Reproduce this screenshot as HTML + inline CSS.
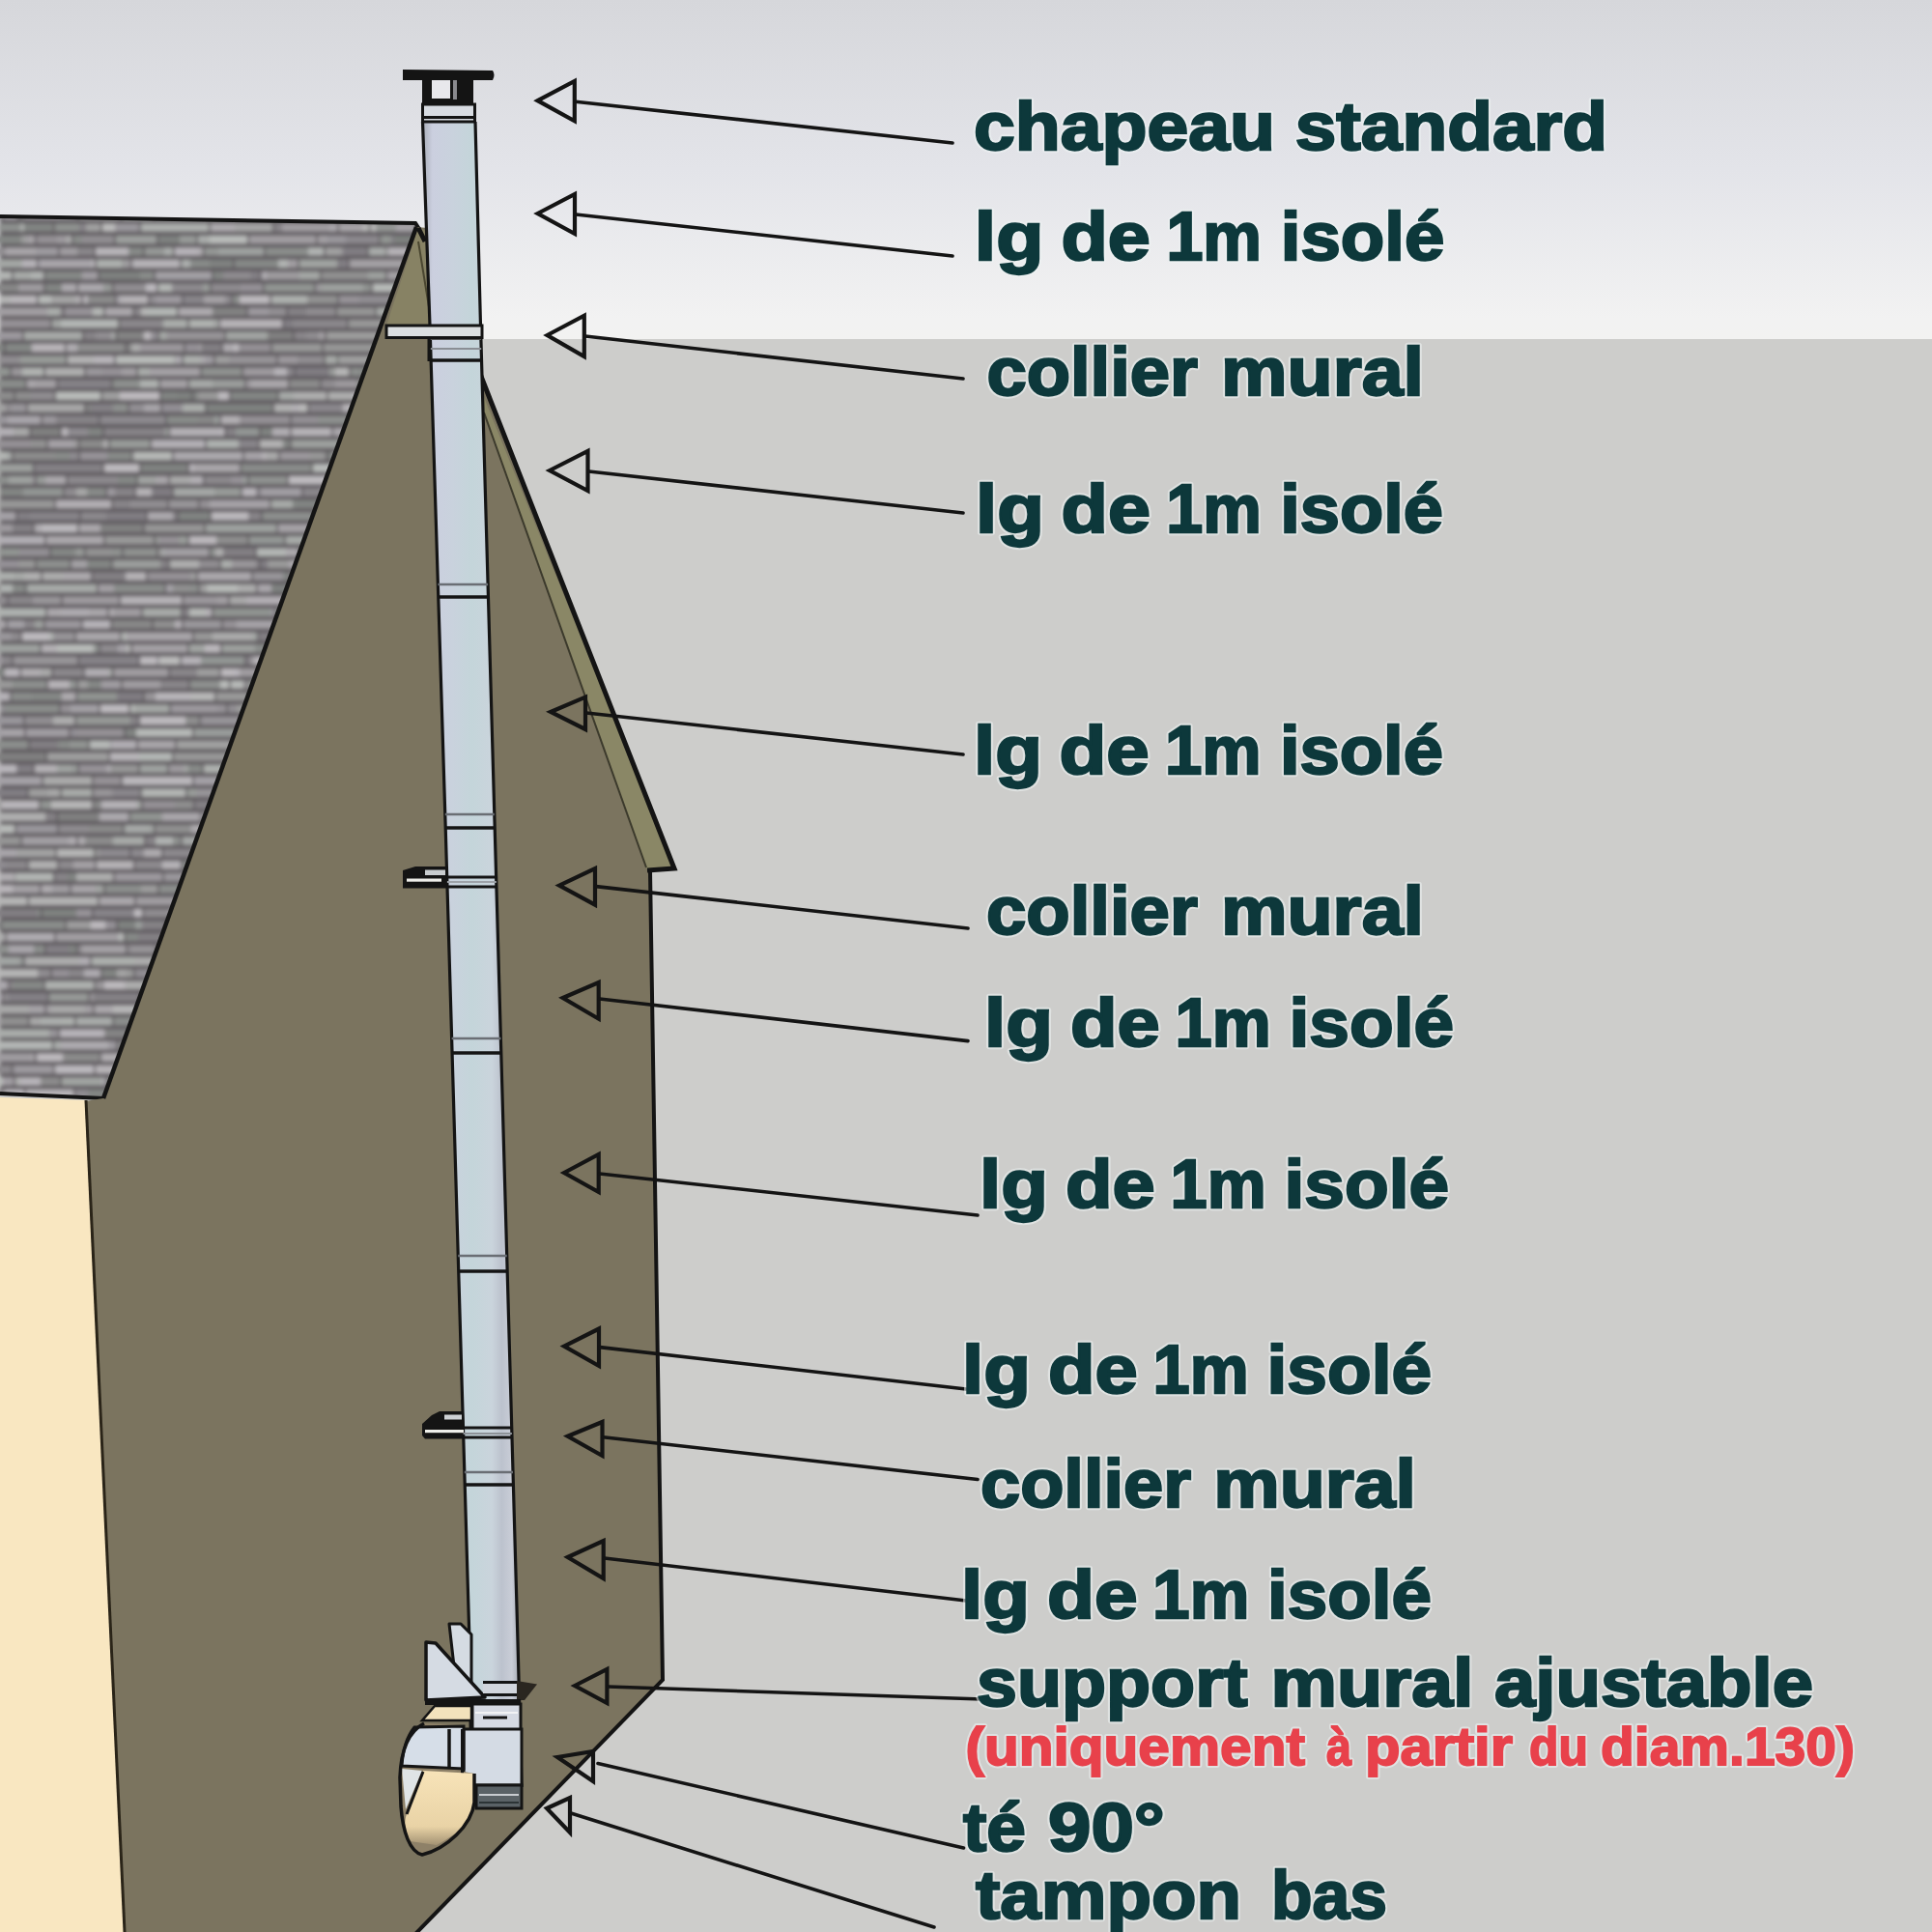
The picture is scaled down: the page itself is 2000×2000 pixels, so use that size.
<!DOCTYPE html>
<html><head><meta charset="utf-8"><style>
html,body{margin:0;padding:0;width:2000px;height:2000px;overflow:hidden;background:#cdcdcb;}
svg{display:block;font-family:"Liberation Sans",sans-serif;}
</style></head><body>
<svg width="2000" height="2000" viewBox="0 0 2000 2000"><defs><clipPath id="roofclip"><polygon points="0,224 430,231 433,236 107,1137 0,1132"/></clipPath><filter id="soft" x="0" y="0" width="1" height="1"><feGaussianBlur stdDeviation="2.2"/></filter><linearGradient id="sky" x1="0" y1="0" x2="0" y2="1"><stop offset="0" stop-color="#d6d7db"/><stop offset="0.5" stop-color="#e3e4e9"/><stop offset="0.94" stop-color="#f2f2f2"/><stop offset="1" stop-color="#f2f2f1"/></linearGradient><linearGradient id="pipeg" x1="0" y1="0" x2="1" y2="0"><stop offset="0" stop-color="#a9aeb8"/><stop offset="0.1" stop-color="#cbcfdf"/><stop offset="0.3" stop-color="#c9d2dd"/><stop offset="0.5" stop-color="#c4d5da"/><stop offset="0.7" stop-color="#cad4dc"/><stop offset="0.8" stop-color="#bcc2cd"/><stop offset="0.9" stop-color="#c9cdd7"/><stop offset="1" stop-color="#9ca1aa"/></linearGradient><linearGradient id="creamg" x1="0" y1="0" x2="0" y2="1"><stop offset="0" stop-color="#f7e3b8"/><stop offset="0.75" stop-color="#e9d3a6"/><stop offset="1" stop-color="#a39273"/></linearGradient></defs>
<rect x="0" y="0" width="2000" height="351" fill="url(#sky)"/>
<rect x="0" y="351" width="2000" height="1649" fill="#cdcdcb"/>
<g clip-path="url(#roofclip)"><g filter="url(#soft)"><rect x="0" y="215" width="445" height="930" fill="#5e5a5f"/><rect x="-19" y="219.0" width="5" height="8.2" fill="rgb(129,132,130)"/><rect x="-14" y="219.0" width="19" height="8.2" fill="rgb(136,133,137)"/><rect x="5" y="219.0" width="13" height="8.2" fill="rgb(165,162,167)"/><rect x="20" y="219.0" width="6" height="8.2" fill="rgb(133,133,133)"/><rect x="26" y="219.0" width="54" height="8.2" fill="rgb(154,151,156)"/><rect x="82" y="219.0" width="43" height="8.2" fill="rgb(163,163,163)"/><rect x="127" y="219.0" width="31" height="8.2" fill="rgb(186,189,187)"/><rect x="160" y="219.0" width="68" height="8.2" fill="rgb(161,164,162)"/><rect x="230" y="219.0" width="53" height="8.2" fill="rgb(142,139,144)"/><rect x="285" y="219.0" width="22" height="8.2" fill="rgb(152,155,153)"/><rect x="307" y="219.0" width="41" height="8.2" fill="rgb(162,159,164)"/><rect x="350" y="219.0" width="39" height="8.2" fill="rgb(183,180,184)"/><rect x="389" y="219.0" width="25" height="8.2" fill="rgb(139,136,141)"/><rect x="416" y="219.0" width="27" height="8.2" fill="rgb(131,134,132)"/><rect x="443" y="219.0" width="38" height="8.2" fill="rgb(173,170,175)"/><rect x="-35" y="231.4" width="19" height="8.2" fill="rgb(168,171,169)"/><rect x="-16" y="231.4" width="12" height="8.2" fill="rgb(157,154,158)"/><rect x="-2" y="231.4" width="23" height="8.2" fill="rgb(141,144,142)"/><rect x="21" y="231.4" width="4" height="8.2" fill="rgb(170,173,171)"/><rect x="25" y="231.4" width="30" height="8.2" fill="rgb(130,133,131)"/><rect x="57" y="231.4" width="25" height="8.2" fill="rgb(143,146,144)"/><rect x="82" y="231.4" width="7" height="8.2" fill="rgb(132,129,134)"/><rect x="89" y="231.4" width="15" height="8.2" fill="rgb(160,160,160)"/><rect x="106" y="231.4" width="13" height="8.2" fill="rgb(187,187,187)"/><rect x="119" y="231.4" width="25" height="8.2" fill="rgb(154,151,156)"/><rect x="146" y="231.4" width="70" height="8.2" fill="rgb(173,176,174)"/><rect x="218" y="231.4" width="25" height="8.2" fill="rgb(174,171,175)"/><rect x="243" y="231.4" width="39" height="8.2" fill="rgb(166,166,166)"/><rect x="284" y="231.4" width="8" height="8.2" fill="rgb(135,132,136)"/><rect x="292" y="231.4" width="49" height="8.2" fill="rgb(161,158,162)"/><rect x="341" y="231.4" width="8" height="8.2" fill="rgb(170,167,172)"/><rect x="351" y="231.4" width="24" height="8.2" fill="rgb(167,164,168)"/><rect x="375" y="231.4" width="7" height="8.2" fill="rgb(180,180,180)"/><rect x="384" y="231.4" width="5" height="8.2" fill="rgb(188,188,188)"/><rect x="389" y="231.4" width="21" height="8.2" fill="rgb(148,151,149)"/><rect x="410" y="231.4" width="20" height="8.2" fill="rgb(167,164,169)"/><rect x="432" y="231.4" width="59" height="8.2" fill="rgb(143,140,144)"/><rect x="-7" y="243.9" width="29" height="8.2" fill="rgb(131,134,132)"/><rect x="22" y="243.9" width="6" height="8.2" fill="rgb(156,156,156)"/><rect x="28" y="243.9" width="8" height="8.2" fill="rgb(165,162,166)"/><rect x="38" y="243.9" width="21" height="8.2" fill="rgb(148,145,149)"/><rect x="59" y="243.9" width="10" height="8.2" fill="rgb(156,153,157)"/><rect x="69" y="243.9" width="5" height="8.2" fill="rgb(171,171,171)"/><rect x="76" y="243.9" width="9" height="8.2" fill="rgb(137,140,138)"/><rect x="85" y="243.9" width="33" height="8.2" fill="rgb(145,142,146)"/><rect x="120" y="243.9" width="42" height="8.2" fill="rgb(156,159,157)"/><rect x="164" y="243.9" width="22" height="8.2" fill="rgb(126,129,127)"/><rect x="186" y="243.9" width="17" height="8.2" fill="rgb(151,154,152)"/><rect x="205" y="243.9" width="12" height="8.2" fill="rgb(169,172,170)"/><rect x="217" y="243.9" width="39" height="8.2" fill="rgb(185,188,186)"/><rect x="258" y="243.9" width="69" height="8.2" fill="rgb(160,157,161)"/><rect x="329" y="243.9" width="10" height="8.2" fill="rgb(161,158,162)"/><rect x="339" y="243.9" width="19" height="8.2" fill="rgb(153,150,155)"/><rect x="358" y="243.9" width="34" height="8.2" fill="rgb(140,137,142)"/><rect x="394" y="243.9" width="11" height="8.2" fill="rgb(146,149,147)"/><rect x="405" y="243.9" width="3" height="8.2" fill="rgb(131,128,133)"/><rect x="408" y="243.9" width="27" height="8.2" fill="rgb(125,128,126)"/><rect x="437" y="243.9" width="37" height="8.2" fill="rgb(190,187,191)"/><rect x="-38" y="256.3" width="29" height="8.2" fill="rgb(181,184,182)"/><rect x="-7" y="256.3" width="13" height="8.2" fill="rgb(146,143,147)"/><rect x="6" y="256.3" width="31" height="8.2" fill="rgb(168,165,169)"/><rect x="37" y="256.3" width="23" height="8.2" fill="rgb(158,155,160)"/><rect x="62" y="256.3" width="18" height="8.2" fill="rgb(160,157,161)"/><rect x="80" y="256.3" width="1" height="8.2" fill="rgb(131,134,132)"/><rect x="81" y="256.3" width="16" height="8.2" fill="rgb(137,134,138)"/><rect x="99" y="256.3" width="34" height="8.2" fill="rgb(184,181,185)"/><rect x="133" y="256.3" width="15" height="8.2" fill="rgb(135,138,136)"/><rect x="150" y="256.3" width="20" height="8.2" fill="rgb(149,152,150)"/><rect x="170" y="256.3" width="9" height="8.2" fill="rgb(169,172,170)"/><rect x="181" y="256.3" width="24" height="8.2" fill="rgb(183,180,185)"/><rect x="205" y="256.3" width="5" height="8.2" fill="rgb(174,171,175)"/><rect x="212" y="256.3" width="14" height="8.2" fill="rgb(148,151,149)"/><rect x="226" y="256.3" width="47" height="8.2" fill="rgb(159,162,160)"/><rect x="275" y="256.3" width="44" height="8.2" fill="rgb(139,142,140)"/><rect x="319" y="256.3" width="16" height="8.2" fill="rgb(177,180,178)"/><rect x="337" y="256.3" width="16" height="8.2" fill="rgb(161,161,161)"/><rect x="353" y="256.3" width="2" height="8.2" fill="rgb(153,150,154)"/><rect x="355" y="256.3" width="25" height="8.2" fill="rgb(129,126,131)"/><rect x="382" y="256.3" width="16" height="8.2" fill="rgb(169,172,170)"/><rect x="398" y="256.3" width="4" height="8.2" fill="rgb(150,150,150)"/><rect x="402" y="256.3" width="25" height="8.2" fill="rgb(182,179,183)"/><rect x="429" y="256.3" width="9" height="8.2" fill="rgb(142,139,144)"/><rect x="438" y="256.3" width="41" height="8.2" fill="rgb(142,142,142)"/><rect x="-11" y="268.8" width="34" height="8.2" fill="rgb(164,167,165)"/><rect x="23" y="268.8" width="15" height="8.2" fill="rgb(181,178,183)"/><rect x="40" y="268.8" width="55" height="8.2" fill="rgb(169,166,171)"/><rect x="95" y="268.8" width="3" height="8.2" fill="rgb(184,181,185)"/><rect x="100" y="268.8" width="26" height="8.2" fill="rgb(174,177,175)"/><rect x="126" y="268.8" width="3" height="8.2" fill="rgb(156,159,157)"/><rect x="129" y="268.8" width="6" height="8.2" fill="rgb(158,155,159)"/><rect x="137" y="268.8" width="49" height="8.2" fill="rgb(182,179,183)"/><rect x="188" y="268.8" width="9" height="8.2" fill="rgb(172,175,173)"/><rect x="197" y="268.8" width="20" height="8.2" fill="rgb(136,139,137)"/><rect x="217" y="268.8" width="24" height="8.2" fill="rgb(127,130,128)"/><rect x="243" y="268.8" width="45" height="8.2" fill="rgb(134,137,135)"/><rect x="288" y="268.8" width="10" height="8.2" fill="rgb(177,180,178)"/><rect x="298" y="268.8" width="10" height="8.2" fill="rgb(161,158,162)"/><rect x="310" y="268.8" width="39" height="8.2" fill="rgb(161,164,162)"/><rect x="349" y="268.8" width="11" height="8.2" fill="rgb(129,126,131)"/><rect x="362" y="268.8" width="69" height="8.2" fill="rgb(164,161,165)"/><rect x="433" y="268.8" width="10" height="8.2" fill="rgb(178,181,179)"/><rect x="443" y="268.8" width="21" height="8.2" fill="rgb(131,128,132)"/><rect x="464" y="268.8" width="5" height="8.2" fill="rgb(143,140,144)"/><rect x="-31" y="281.2" width="20" height="8.2" fill="rgb(162,162,162)"/><rect x="-11" y="281.2" width="23" height="8.2" fill="rgb(179,182,180)"/><rect x="14" y="281.2" width="18" height="8.2" fill="rgb(167,170,168)"/><rect x="32" y="281.2" width="13" height="8.2" fill="rgb(177,180,178)"/><rect x="47" y="281.2" width="38" height="8.2" fill="rgb(134,137,135)"/><rect x="85" y="281.2" width="16" height="8.2" fill="rgb(160,157,162)"/><rect x="103" y="281.2" width="42" height="8.2" fill="rgb(126,129,127)"/><rect x="145" y="281.2" width="14" height="8.2" fill="rgb(137,140,138)"/><rect x="161" y="281.2" width="58" height="8.2" fill="rgb(163,160,165)"/><rect x="221" y="281.2" width="10" height="8.2" fill="rgb(129,132,130)"/><rect x="231" y="281.2" width="29" height="8.2" fill="rgb(142,139,143)"/><rect x="260" y="281.2" width="9" height="8.2" fill="rgb(130,127,132)"/><rect x="271" y="281.2" width="5" height="8.2" fill="rgb(176,173,178)"/><rect x="276" y="281.2" width="34" height="8.2" fill="rgb(158,155,159)"/><rect x="310" y="281.2" width="21" height="8.2" fill="rgb(164,167,165)"/><rect x="333" y="281.2" width="48" height="8.2" fill="rgb(145,145,145)"/><rect x="381" y="281.2" width="18" height="8.2" fill="rgb(157,160,158)"/><rect x="401" y="281.2" width="48" height="8.2" fill="rgb(163,160,164)"/><rect x="449" y="281.2" width="10" height="8.2" fill="rgb(184,187,185)"/><rect x="-11" y="293.7" width="30" height="8.2" fill="rgb(135,135,135)"/><rect x="19" y="293.7" width="26" height="8.2" fill="rgb(158,155,159)"/><rect x="47" y="293.7" width="17" height="8.2" fill="rgb(130,133,131)"/><rect x="64" y="293.7" width="15" height="8.2" fill="rgb(172,169,173)"/><rect x="81" y="293.7" width="26" height="8.2" fill="rgb(172,169,173)"/><rect x="107" y="293.7" width="9" height="8.2" fill="rgb(149,152,150)"/><rect x="118" y="293.7" width="33" height="8.2" fill="rgb(145,142,146)"/><rect x="151" y="293.7" width="11" height="8.2" fill="rgb(188,185,190)"/><rect x="164" y="293.7" width="14" height="8.2" fill="rgb(179,182,180)"/><rect x="178" y="293.7" width="32" height="8.2" fill="rgb(141,138,142)"/><rect x="210" y="293.7" width="7" height="8.2" fill="rgb(152,155,153)"/><rect x="219" y="293.7" width="30" height="8.2" fill="rgb(142,139,143)"/><rect x="249" y="293.7" width="23" height="8.2" fill="rgb(148,145,150)"/><rect x="274" y="293.7" width="51" height="8.2" fill="rgb(146,149,147)"/><rect x="327" y="293.7" width="5" height="8.2" fill="rgb(154,151,155)"/><rect x="332" y="293.7" width="44" height="8.2" fill="rgb(158,161,159)"/><rect x="376" y="293.7" width="8" height="8.2" fill="rgb(143,146,144)"/><rect x="386" y="293.7" width="32" height="8.2" fill="rgb(184,187,185)"/><rect x="420" y="293.7" width="34" height="8.2" fill="rgb(146,143,147)"/><rect x="-1" y="306.1" width="12" height="8.2" fill="rgb(180,180,180)"/><rect x="11" y="306.1" width="27" height="8.2" fill="rgb(185,182,186)"/><rect x="40" y="306.1" width="13" height="8.2" fill="rgb(183,186,184)"/><rect x="53" y="306.1" width="25" height="8.2" fill="rgb(164,164,164)"/><rect x="78" y="306.1" width="6" height="8.2" fill="rgb(174,171,175)"/><rect x="86" y="306.1" width="5" height="8.2" fill="rgb(182,179,183)"/><rect x="91" y="306.1" width="28" height="8.2" fill="rgb(139,139,139)"/><rect x="121" y="306.1" width="4" height="8.2" fill="rgb(168,165,170)"/><rect x="125" y="306.1" width="28" height="8.2" fill="rgb(181,178,182)"/><rect x="155" y="306.1" width="6" height="8.2" fill="rgb(144,141,146)"/><rect x="161" y="306.1" width="27" height="8.2" fill="rgb(157,154,159)"/><rect x="190" y="306.1" width="21" height="8.2" fill="rgb(136,133,138)"/><rect x="211" y="306.1" width="22" height="8.2" fill="rgb(164,161,165)"/><rect x="233" y="306.1" width="6" height="8.2" fill="rgb(143,140,145)"/><rect x="241" y="306.1" width="7" height="8.2" fill="rgb(137,140,138)"/><rect x="248" y="306.1" width="31" height="8.2" fill="rgb(189,186,190)"/><rect x="281" y="306.1" width="37" height="8.2" fill="rgb(174,177,175)"/><rect x="318" y="306.1" width="31" height="8.2" fill="rgb(146,146,146)"/><rect x="351" y="306.1" width="21" height="8.2" fill="rgb(150,147,152)"/><rect x="372" y="306.1" width="39" height="8.2" fill="rgb(144,141,146)"/><rect x="413" y="306.1" width="28" height="8.2" fill="rgb(171,174,172)"/><rect x="443" y="306.1" width="36" height="8.2" fill="rgb(156,159,157)"/><rect x="479" y="306.1" width="27" height="8.2" fill="rgb(187,187,187)"/><rect x="-5" y="318.6" width="54" height="8.2" fill="rgb(162,159,163)"/><rect x="49" y="318.6" width="13" height="8.2" fill="rgb(170,173,171)"/><rect x="62" y="318.6" width="3" height="8.2" fill="rgb(144,141,145)"/><rect x="67" y="318.6" width="29" height="8.2" fill="rgb(150,147,152)"/><rect x="96" y="318.6" width="11" height="8.2" fill="rgb(179,182,180)"/><rect x="109" y="318.6" width="28" height="8.2" fill="rgb(171,168,172)"/><rect x="139" y="318.6" width="7" height="8.2" fill="rgb(136,133,137)"/><rect x="146" y="318.6" width="7" height="8.2" fill="rgb(181,181,181)"/><rect x="153" y="318.6" width="30" height="8.2" fill="rgb(180,183,181)"/><rect x="185" y="318.6" width="35" height="8.2" fill="rgb(174,171,175)"/><rect x="220" y="318.6" width="35" height="8.2" fill="rgb(130,130,130)"/><rect x="257" y="318.6" width="21" height="8.2" fill="rgb(156,153,158)"/><rect x="278" y="318.6" width="18" height="8.2" fill="rgb(146,143,147)"/><rect x="298" y="318.6" width="19" height="8.2" fill="rgb(132,129,133)"/><rect x="317" y="318.6" width="30" height="8.2" fill="rgb(143,140,144)"/><rect x="349" y="318.6" width="39" height="8.2" fill="rgb(149,149,149)"/><rect x="390" y="318.6" width="12" height="8.2" fill="rgb(167,170,168)"/><rect x="402" y="318.6" width="8" height="8.2" fill="rgb(140,143,141)"/><rect x="410" y="318.6" width="13" height="8.2" fill="rgb(177,174,179)"/><rect x="425" y="318.6" width="30" height="8.2" fill="rgb(131,134,132)"/><rect x="455" y="318.6" width="3" height="8.2" fill="rgb(150,153,151)"/><rect x="-1" y="331.0" width="53" height="8.2" fill="rgb(149,146,150)"/><rect x="54" y="331.0" width="9" height="8.2" fill="rgb(162,165,163)"/><rect x="63" y="331.0" width="59" height="8.2" fill="rgb(180,183,181)"/><rect x="124" y="331.0" width="45" height="8.2" fill="rgb(139,136,140)"/><rect x="169" y="331.0" width="22" height="8.2" fill="rgb(171,174,172)"/><rect x="191" y="331.0" width="3" height="8.2" fill="rgb(167,170,168)"/><rect x="196" y="331.0" width="26" height="8.2" fill="rgb(176,179,177)"/><rect x="222" y="331.0" width="1" height="8.2" fill="rgb(133,136,134)"/><rect x="223" y="331.0" width="3" height="8.2" fill="rgb(173,176,174)"/><rect x="228" y="331.0" width="64" height="8.2" fill="rgb(183,180,184)"/><rect x="294" y="331.0" width="9" height="8.2" fill="rgb(129,126,131)"/><rect x="303" y="331.0" width="56" height="8.2" fill="rgb(139,136,140)"/><rect x="361" y="331.0" width="51" height="8.2" fill="rgb(152,152,152)"/><rect x="414" y="331.0" width="63" height="8.2" fill="rgb(168,165,170)"/><rect x="-39" y="343.5" width="35" height="8.2" fill="rgb(144,141,146)"/><rect x="-4" y="343.5" width="27" height="8.2" fill="rgb(157,154,159)"/><rect x="25" y="343.5" width="60" height="8.2" fill="rgb(167,170,168)"/><rect x="87" y="343.5" width="12" height="8.2" fill="rgb(134,131,135)"/><rect x="99" y="343.5" width="17" height="8.2" fill="rgb(146,143,147)"/><rect x="116" y="343.5" width="3" height="8.2" fill="rgb(174,177,175)"/><rect x="121" y="343.5" width="28" height="8.2" fill="rgb(132,132,132)"/><rect x="149" y="343.5" width="7" height="8.2" fill="rgb(189,186,190)"/><rect x="156" y="343.5" width="7" height="8.2" fill="rgb(146,143,148)"/><rect x="165" y="343.5" width="8" height="8.2" fill="rgb(164,167,165)"/><rect x="173" y="343.5" width="59" height="8.2" fill="rgb(151,148,152)"/><rect x="234" y="343.5" width="43" height="8.2" fill="rgb(162,165,163)"/><rect x="277" y="343.5" width="26" height="8.2" fill="rgb(128,128,128)"/><rect x="305" y="343.5" width="12" height="8.2" fill="rgb(137,134,138)"/><rect x="317" y="343.5" width="13" height="8.2" fill="rgb(144,141,145)"/><rect x="330" y="343.5" width="6" height="8.2" fill="rgb(161,158,162)"/><rect x="338" y="343.5" width="63" height="8.2" fill="rgb(157,157,157)"/><rect x="401" y="343.5" width="10" height="8.2" fill="rgb(177,174,179)"/><rect x="413" y="343.5" width="23" height="8.2" fill="rgb(133,133,133)"/><rect x="436" y="343.5" width="40" height="8.2" fill="rgb(131,128,132)"/><rect x="-28" y="355.9" width="12" height="8.2" fill="rgb(139,142,140)"/><rect x="-16" y="355.9" width="4" height="8.2" fill="rgb(129,132,130)"/><rect x="-12" y="355.9" width="16" height="8.2" fill="rgb(131,134,132)"/><rect x="6" y="355.9" width="27" height="8.2" fill="rgb(133,136,134)"/><rect x="33" y="355.9" width="34" height="8.2" fill="rgb(183,180,184)"/><rect x="69" y="355.9" width="11" height="8.2" fill="rgb(175,172,176)"/><rect x="80" y="355.9" width="49" height="8.2" fill="rgb(142,142,142)"/><rect x="131" y="355.9" width="5" height="8.2" fill="rgb(128,128,128)"/><rect x="136" y="355.9" width="9" height="8.2" fill="rgb(171,171,171)"/><rect x="145" y="355.9" width="45" height="8.2" fill="rgb(155,152,156)"/><rect x="192" y="355.9" width="15" height="8.2" fill="rgb(148,145,150)"/><rect x="207" y="355.9" width="1" height="8.2" fill="rgb(183,180,184)"/><rect x="208" y="355.9" width="21" height="8.2" fill="rgb(130,127,131)"/><rect x="231" y="355.9" width="11" height="8.2" fill="rgb(173,170,175)"/><rect x="242" y="355.9" width="5" height="8.2" fill="rgb(188,185,189)"/><rect x="247" y="355.9" width="33" height="8.2" fill="rgb(148,145,149)"/><rect x="282" y="355.9" width="51" height="8.2" fill="rgb(153,153,153)"/><rect x="335" y="355.9" width="65" height="8.2" fill="rgb(151,151,151)"/><rect x="402" y="355.9" width="45" height="8.2" fill="rgb(145,142,147)"/><rect x="-2" y="368.4" width="23" height="8.2" fill="rgb(145,142,146)"/><rect x="21" y="368.4" width="47" height="8.2" fill="rgb(152,155,153)"/><rect x="70" y="368.4" width="27" height="8.2" fill="rgb(178,178,178)"/><rect x="97" y="368.4" width="21" height="8.2" fill="rgb(184,181,186)"/><rect x="120" y="368.4" width="60" height="8.2" fill="rgb(185,188,186)"/><rect x="180" y="368.4" width="2" height="8.2" fill="rgb(161,164,162)"/><rect x="182" y="368.4" width="6" height="8.2" fill="rgb(174,171,176)"/><rect x="190" y="368.4" width="18" height="8.2" fill="rgb(174,177,175)"/><rect x="208" y="368.4" width="5" height="8.2" fill="rgb(171,168,172)"/><rect x="213" y="368.4" width="8" height="8.2" fill="rgb(159,156,161)"/><rect x="223" y="368.4" width="14" height="8.2" fill="rgb(158,158,158)"/><rect x="237" y="368.4" width="49" height="8.2" fill="rgb(151,148,152)"/><rect x="288" y="368.4" width="20" height="8.2" fill="rgb(156,153,157)"/><rect x="308" y="368.4" width="27" height="8.2" fill="rgb(145,142,146)"/><rect x="337" y="368.4" width="11" height="8.2" fill="rgb(167,170,168)"/><rect x="348" y="368.4" width="3" height="8.2" fill="rgb(130,133,131)"/><rect x="351" y="368.4" width="44" height="8.2" fill="rgb(160,160,160)"/><rect x="397" y="368.4" width="32" height="8.2" fill="rgb(188,185,189)"/><rect x="429" y="368.4" width="31" height="8.2" fill="rgb(176,176,176)"/><rect x="-26" y="380.8" width="11" height="8.2" fill="rgb(131,134,132)"/><rect x="-15" y="380.8" width="25" height="8.2" fill="rgb(146,149,147)"/><rect x="12" y="380.8" width="11" height="8.2" fill="rgb(153,150,154)"/><rect x="23" y="380.8" width="22" height="8.2" fill="rgb(176,179,177)"/><rect x="47" y="380.8" width="40" height="8.2" fill="rgb(175,175,175)"/><rect x="89" y="380.8" width="17" height="8.2" fill="rgb(154,151,155)"/><rect x="106" y="380.8" width="20" height="8.2" fill="rgb(149,146,151)"/><rect x="126" y="380.8" width="15" height="8.2" fill="rgb(161,158,162)"/><rect x="143" y="380.8" width="12" height="8.2" fill="rgb(168,171,169)"/><rect x="155" y="380.8" width="52" height="8.2" fill="rgb(164,161,165)"/><rect x="209" y="380.8" width="41" height="8.2" fill="rgb(143,146,144)"/><rect x="252" y="380.8" width="32" height="8.2" fill="rgb(157,154,158)"/><rect x="284" y="380.8" width="13" height="8.2" fill="rgb(182,179,184)"/><rect x="297" y="380.8" width="7" height="8.2" fill="rgb(136,133,138)"/><rect x="306" y="380.8" width="35" height="8.2" fill="rgb(128,125,130)"/><rect x="341" y="380.8" width="6" height="8.2" fill="rgb(150,153,151)"/><rect x="347" y="380.8" width="14" height="8.2" fill="rgb(182,182,182)"/><rect x="363" y="380.8" width="10" height="8.2" fill="rgb(140,143,141)"/><rect x="373" y="380.8" width="46" height="8.2" fill="rgb(134,137,135)"/><rect x="421" y="380.8" width="71" height="8.2" fill="rgb(191,188,192)"/><rect x="-43" y="393.3" width="9" height="8.2" fill="rgb(177,174,179)"/><rect x="-34" y="393.3" width="30" height="8.2" fill="rgb(126,129,127)"/><rect x="-4" y="393.3" width="30" height="8.2" fill="rgb(139,142,140)"/><rect x="28" y="393.3" width="8" height="8.2" fill="rgb(170,167,171)"/><rect x="36" y="393.3" width="22" height="8.2" fill="rgb(164,161,165)"/><rect x="60" y="393.3" width="55" height="8.2" fill="rgb(134,131,136)"/><rect x="117" y="393.3" width="28" height="8.2" fill="rgb(142,145,143)"/><rect x="145" y="393.3" width="19" height="8.2" fill="rgb(175,178,176)"/><rect x="166" y="393.3" width="28" height="8.2" fill="rgb(164,161,165)"/><rect x="196" y="393.3" width="24" height="8.2" fill="rgb(167,170,168)"/><rect x="220" y="393.3" width="33" height="8.2" fill="rgb(155,158,156)"/><rect x="255" y="393.3" width="5" height="8.2" fill="rgb(157,154,158)"/><rect x="260" y="393.3" width="38" height="8.2" fill="rgb(171,168,172)"/><rect x="300" y="393.3" width="31" height="8.2" fill="rgb(140,140,140)"/><rect x="333" y="393.3" width="14" height="8.2" fill="rgb(145,142,146)"/><rect x="347" y="393.3" width="22" height="8.2" fill="rgb(157,154,158)"/><rect x="369" y="393.3" width="35" height="8.2" fill="rgb(142,142,142)"/><rect x="406" y="393.3" width="26" height="8.2" fill="rgb(156,153,157)"/><rect x="432" y="393.3" width="4" height="8.2" fill="rgb(171,171,171)"/><rect x="438" y="393.3" width="40" height="8.2" fill="rgb(181,178,182)"/><rect x="-46" y="405.7" width="60" height="8.2" fill="rgb(141,141,141)"/><rect x="16" y="405.7" width="16" height="8.2" fill="rgb(142,142,142)"/><rect x="32" y="405.7" width="24" height="8.2" fill="rgb(144,141,145)"/><rect x="58" y="405.7" width="46" height="8.2" fill="rgb(185,188,186)"/><rect x="106" y="405.7" width="18" height="8.2" fill="rgb(159,159,159)"/><rect x="124" y="405.7" width="41" height="8.2" fill="rgb(189,186,190)"/><rect x="167" y="405.7" width="16" height="8.2" fill="rgb(129,132,130)"/><rect x="183" y="405.7" width="15" height="8.2" fill="rgb(126,129,127)"/><rect x="200" y="405.7" width="5" height="8.2" fill="rgb(129,132,130)"/><rect x="205" y="405.7" width="21" height="8.2" fill="rgb(153,153,153)"/><rect x="226" y="405.7" width="11" height="8.2" fill="rgb(188,185,189)"/><rect x="239" y="405.7" width="48" height="8.2" fill="rgb(131,134,132)"/><rect x="289" y="405.7" width="15" height="8.2" fill="rgb(166,169,167)"/><rect x="304" y="405.7" width="34" height="8.2" fill="rgb(175,175,175)"/><rect x="340" y="405.7" width="25" height="8.2" fill="rgb(174,174,174)"/><rect x="365" y="405.7" width="5" height="8.2" fill="rgb(183,180,184)"/><rect x="372" y="405.7" width="10" height="8.2" fill="rgb(128,125,130)"/><rect x="382" y="405.7" width="4" height="8.2" fill="rgb(145,142,147)"/><rect x="386" y="405.7" width="35" height="8.2" fill="rgb(150,150,150)"/><rect x="423" y="405.7" width="16" height="8.2" fill="rgb(152,149,153)"/><rect x="439" y="405.7" width="19" height="8.2" fill="rgb(180,180,180)"/><rect x="-4" y="418.2" width="10" height="8.2" fill="rgb(162,162,162)"/><rect x="6" y="418.2" width="5" height="8.2" fill="rgb(142,139,143)"/><rect x="11" y="418.2" width="16" height="8.2" fill="rgb(154,151,155)"/><rect x="29" y="418.2" width="58" height="8.2" fill="rgb(168,168,168)"/><rect x="89" y="418.2" width="6" height="8.2" fill="rgb(130,130,130)"/><rect x="95" y="418.2" width="22" height="8.2" fill="rgb(132,129,134)"/><rect x="117" y="418.2" width="15" height="8.2" fill="rgb(142,145,143)"/><rect x="134" y="418.2" width="15" height="8.2" fill="rgb(147,144,148)"/><rect x="149" y="418.2" width="17" height="8.2" fill="rgb(167,164,169)"/><rect x="168" y="418.2" width="21" height="8.2" fill="rgb(147,144,149)"/><rect x="189" y="418.2" width="23" height="8.2" fill="rgb(171,174,172)"/><rect x="214" y="418.2" width="68" height="8.2" fill="rgb(127,130,128)"/><rect x="284" y="418.2" width="18" height="8.2" fill="rgb(177,177,177)"/><rect x="302" y="418.2" width="8" height="8.2" fill="rgb(180,177,181)"/><rect x="310" y="418.2" width="8" height="8.2" fill="rgb(186,186,186)"/><rect x="320" y="418.2" width="35" height="8.2" fill="rgb(139,136,141)"/><rect x="355" y="418.2" width="24" height="8.2" fill="rgb(182,179,183)"/><rect x="381" y="418.2" width="42" height="8.2" fill="rgb(145,142,146)"/><rect x="423" y="418.2" width="5" height="8.2" fill="rgb(185,182,186)"/><rect x="430" y="418.2" width="54" height="8.2" fill="rgb(175,178,176)"/><rect x="484" y="418.2" width="3" height="8.2" fill="rgb(130,133,131)"/><rect x="-11" y="430.6" width="19" height="8.2" fill="rgb(154,151,156)"/><rect x="8" y="430.6" width="34" height="8.2" fill="rgb(169,166,171)"/><rect x="44" y="430.6" width="14" height="8.2" fill="rgb(155,152,157)"/><rect x="58" y="430.6" width="44" height="8.2" fill="rgb(134,131,135)"/><rect x="104" y="430.6" width="67" height="8.2" fill="rgb(141,138,143)"/><rect x="173" y="430.6" width="32" height="8.2" fill="rgb(137,140,138)"/><rect x="205" y="430.6" width="17" height="8.2" fill="rgb(136,136,136)"/><rect x="222" y="430.6" width="5" height="8.2" fill="rgb(154,157,155)"/><rect x="229" y="430.6" width="19" height="8.2" fill="rgb(179,176,180)"/><rect x="248" y="430.6" width="52" height="8.2" fill="rgb(148,145,149)"/><rect x="302" y="430.6" width="27" height="8.2" fill="rgb(147,144,148)"/><rect x="329" y="430.6" width="37" height="8.2" fill="rgb(142,145,143)"/><rect x="368" y="430.6" width="15" height="8.2" fill="rgb(141,144,142)"/><rect x="383" y="430.6" width="41" height="8.2" fill="rgb(139,136,140)"/><rect x="426" y="430.6" width="24" height="8.2" fill="rgb(132,132,132)"/><rect x="450" y="430.6" width="41" height="8.2" fill="rgb(142,145,143)"/><rect x="-31" y="443.1" width="45" height="8.2" fill="rgb(179,176,181)"/><rect x="14" y="443.1" width="16" height="8.2" fill="rgb(169,169,169)"/><rect x="32" y="443.1" width="30" height="8.2" fill="rgb(128,128,128)"/><rect x="64" y="443.1" width="6" height="8.2" fill="rgb(186,183,187)"/><rect x="70" y="443.1" width="21" height="8.2" fill="rgb(142,139,144)"/><rect x="91" y="443.1" width="15" height="8.2" fill="rgb(129,132,130)"/><rect x="108" y="443.1" width="63" height="8.2" fill="rgb(134,131,135)"/><rect x="171" y="443.1" width="3" height="8.2" fill="rgb(158,161,159)"/><rect x="176" y="443.1" width="53" height="8.2" fill="rgb(180,177,181)"/><rect x="229" y="443.1" width="3" height="8.2" fill="rgb(188,185,190)"/><rect x="234" y="443.1" width="10" height="8.2" fill="rgb(132,129,133)"/><rect x="244" y="443.1" width="24" height="8.2" fill="rgb(147,150,148)"/><rect x="270" y="443.1" width="12" height="8.2" fill="rgb(127,130,128)"/><rect x="282" y="443.1" width="18" height="8.2" fill="rgb(177,174,178)"/><rect x="302" y="443.1" width="41" height="8.2" fill="rgb(182,179,183)"/><rect x="345" y="443.1" width="15" height="8.2" fill="rgb(169,166,170)"/><rect x="360" y="443.1" width="39" height="8.2" fill="rgb(130,133,131)"/><rect x="401" y="443.1" width="19" height="8.2" fill="rgb(132,132,132)"/><rect x="420" y="443.1" width="2" height="8.2" fill="rgb(134,134,134)"/><rect x="422" y="443.1" width="9" height="8.2" fill="rgb(167,170,168)"/><rect x="433" y="443.1" width="37" height="8.2" fill="rgb(167,170,168)"/><rect x="-24" y="455.5" width="56" height="8.2" fill="rgb(149,146,150)"/><rect x="32" y="455.5" width="16" height="8.2" fill="rgb(147,147,147)"/><rect x="50" y="455.5" width="27" height="8.2" fill="rgb(166,163,167)"/><rect x="77" y="455.5" width="4" height="8.2" fill="rgb(154,154,154)"/><rect x="83" y="455.5" width="24" height="8.2" fill="rgb(140,140,140)"/><rect x="107" y="455.5" width="5" height="8.2" fill="rgb(174,174,174)"/><rect x="114" y="455.5" width="41" height="8.2" fill="rgb(153,156,154)"/><rect x="157" y="455.5" width="55" height="8.2" fill="rgb(180,177,182)"/><rect x="214" y="455.5" width="33" height="8.2" fill="rgb(175,178,176)"/><rect x="247" y="455.5" width="20" height="8.2" fill="rgb(136,133,138)"/><rect x="269" y="455.5" width="24" height="8.2" fill="rgb(179,179,179)"/><rect x="293" y="455.5" width="7" height="8.2" fill="rgb(130,133,131)"/><rect x="302" y="455.5" width="51" height="8.2" fill="rgb(158,161,159)"/><rect x="353" y="455.5" width="16" height="8.2" fill="rgb(139,136,140)"/><rect x="371" y="455.5" width="37" height="8.2" fill="rgb(138,135,140)"/><rect x="408" y="455.5" width="9" height="8.2" fill="rgb(134,134,134)"/><rect x="419" y="455.5" width="23" height="8.2" fill="rgb(136,133,138)"/><rect x="442" y="455.5" width="36" height="8.2" fill="rgb(186,186,186)"/><rect x="-19" y="468.0" width="6" height="8.2" fill="rgb(170,167,171)"/><rect x="-13" y="468.0" width="20" height="8.2" fill="rgb(178,181,179)"/><rect x="7" y="468.0" width="5" height="8.2" fill="rgb(166,169,167)"/><rect x="14" y="468.0" width="43" height="8.2" fill="rgb(140,140,140)"/><rect x="57" y="468.0" width="15" height="8.2" fill="rgb(136,139,137)"/><rect x="72" y="468.0" width="9" height="8.2" fill="rgb(141,138,143)"/><rect x="83" y="468.0" width="28" height="8.2" fill="rgb(150,147,152)"/><rect x="111" y="468.0" width="25" height="8.2" fill="rgb(135,138,136)"/><rect x="138" y="468.0" width="40" height="8.2" fill="rgb(181,184,182)"/><rect x="180" y="468.0" width="71" height="8.2" fill="rgb(172,169,173)"/><rect x="253" y="468.0" width="18" height="8.2" fill="rgb(166,163,167)"/><rect x="271" y="468.0" width="5" height="8.2" fill="rgb(179,176,180)"/><rect x="276" y="468.0" width="12" height="8.2" fill="rgb(169,169,169)"/><rect x="290" y="468.0" width="31" height="8.2" fill="rgb(155,152,156)"/><rect x="321" y="468.0" width="16" height="8.2" fill="rgb(151,151,151)"/><rect x="339" y="468.0" width="5" height="8.2" fill="rgb(125,128,126)"/><rect x="344" y="468.0" width="10" height="8.2" fill="rgb(159,159,159)"/><rect x="354" y="468.0" width="45" height="8.2" fill="rgb(143,143,143)"/><rect x="401" y="468.0" width="15" height="8.2" fill="rgb(179,179,179)"/><rect x="416" y="468.0" width="42" height="8.2" fill="rgb(153,150,155)"/><rect x="458" y="468.0" width="10" height="8.2" fill="rgb(130,133,131)"/><rect x="-21" y="480.4" width="9" height="8.2" fill="rgb(179,179,179)"/><rect x="-12" y="480.4" width="46" height="8.2" fill="rgb(157,160,158)"/><rect x="36" y="480.4" width="70" height="8.2" fill="rgb(133,130,134)"/><rect x="108" y="480.4" width="36" height="8.2" fill="rgb(190,187,191)"/><rect x="146" y="480.4" width="48" height="8.2" fill="rgb(128,131,129)"/><rect x="196" y="480.4" width="5" height="8.2" fill="rgb(182,179,184)"/><rect x="201" y="480.4" width="47" height="8.2" fill="rgb(170,167,171)"/><rect x="250" y="480.4" width="72" height="8.2" fill="rgb(138,141,139)"/><rect x="324" y="480.4" width="55" height="8.2" fill="rgb(184,187,185)"/><rect x="379" y="480.4" width="4" height="8.2" fill="rgb(174,171,175)"/><rect x="385" y="480.4" width="42" height="8.2" fill="rgb(183,180,184)"/><rect x="429" y="480.4" width="14" height="8.2" fill="rgb(145,148,146)"/><rect x="443" y="480.4" width="53" height="8.2" fill="rgb(145,145,145)"/><rect x="-8" y="492.9" width="17" height="8.2" fill="rgb(141,144,142)"/><rect x="9" y="492.9" width="24" height="8.2" fill="rgb(158,161,159)"/><rect x="33" y="492.9" width="3" height="8.2" fill="rgb(150,147,151)"/><rect x="38" y="492.9" width="9" height="8.2" fill="rgb(151,154,152)"/><rect x="47" y="492.9" width="21" height="8.2" fill="rgb(170,167,171)"/><rect x="70" y="492.9" width="52" height="8.2" fill="rgb(140,137,141)"/><rect x="122" y="492.9" width="19" height="8.2" fill="rgb(132,135,133)"/><rect x="143" y="492.9" width="18" height="8.2" fill="rgb(160,163,161)"/><rect x="161" y="492.9" width="13" height="8.2" fill="rgb(168,165,169)"/><rect x="176" y="492.9" width="21" height="8.2" fill="rgb(168,168,168)"/><rect x="197" y="492.9" width="13" height="8.2" fill="rgb(177,174,178)"/><rect x="212" y="492.9" width="27" height="8.2" fill="rgb(139,136,140)"/><rect x="239" y="492.9" width="13" height="8.2" fill="rgb(149,146,151)"/><rect x="252" y="492.9" width="4" height="8.2" fill="rgb(154,157,155)"/><rect x="258" y="492.9" width="39" height="8.2" fill="rgb(143,146,144)"/><rect x="299" y="492.9" width="41" height="8.2" fill="rgb(190,187,191)"/><rect x="340" y="492.9" width="3" height="8.2" fill="rgb(187,184,188)"/><rect x="345" y="492.9" width="28" height="8.2" fill="rgb(140,143,141)"/><rect x="375" y="492.9" width="30" height="8.2" fill="rgb(151,148,153)"/><rect x="405" y="492.9" width="6" height="8.2" fill="rgb(136,136,136)"/><rect x="411" y="492.9" width="10" height="8.2" fill="rgb(139,142,140)"/><rect x="423" y="492.9" width="69" height="8.2" fill="rgb(129,126,131)"/><rect x="1" y="505.3" width="23" height="8.2" fill="rgb(131,134,132)"/><rect x="24" y="505.3" width="41" height="8.2" fill="rgb(147,150,148)"/><rect x="67" y="505.3" width="12" height="8.2" fill="rgb(143,140,144)"/><rect x="79" y="505.3" width="11" height="8.2" fill="rgb(167,167,167)"/><rect x="90" y="505.3" width="19" height="8.2" fill="rgb(136,139,137)"/><rect x="111" y="505.3" width="8" height="8.2" fill="rgb(156,153,158)"/><rect x="119" y="505.3" width="20" height="8.2" fill="rgb(135,132,136)"/><rect x="141" y="505.3" width="16" height="8.2" fill="rgb(181,178,182)"/><rect x="157" y="505.3" width="21" height="8.2" fill="rgb(128,125,130)"/><rect x="180" y="505.3" width="42" height="8.2" fill="rgb(166,169,167)"/><rect x="222" y="505.3" width="27" height="8.2" fill="rgb(153,156,154)"/><rect x="251" y="505.3" width="14" height="8.2" fill="rgb(185,182,187)"/><rect x="265" y="505.3" width="5" height="8.2" fill="rgb(130,127,132)"/><rect x="270" y="505.3" width="42" height="8.2" fill="rgb(162,159,164)"/><rect x="314" y="505.3" width="19" height="8.2" fill="rgb(138,135,140)"/><rect x="333" y="505.3" width="34" height="8.2" fill="rgb(186,183,188)"/><rect x="369" y="505.3" width="8" height="8.2" fill="rgb(152,155,153)"/><rect x="377" y="505.3" width="20" height="8.2" fill="rgb(158,161,159)"/><rect x="399" y="505.3" width="43" height="8.2" fill="rgb(136,139,137)"/><rect x="442" y="505.3" width="13" height="8.2" fill="rgb(147,144,149)"/><rect x="455" y="505.3" width="13" height="8.2" fill="rgb(150,147,151)"/><rect x="-2" y="517.8" width="58" height="8.2" fill="rgb(152,152,152)"/><rect x="58" y="517.8" width="57" height="8.2" fill="rgb(178,175,179)"/><rect x="117" y="517.8" width="18" height="8.2" fill="rgb(136,133,137)"/><rect x="135" y="517.8" width="38" height="8.2" fill="rgb(145,142,146)"/><rect x="175" y="517.8" width="30" height="8.2" fill="rgb(152,149,153)"/><rect x="207" y="517.8" width="10" height="8.2" fill="rgb(148,145,149)"/><rect x="217" y="517.8" width="62" height="8.2" fill="rgb(166,163,167)"/><rect x="281" y="517.8" width="22" height="8.2" fill="rgb(167,170,168)"/><rect x="303" y="517.8" width="33" height="8.2" fill="rgb(130,133,131)"/><rect x="338" y="517.8" width="12" height="8.2" fill="rgb(183,186,184)"/><rect x="350" y="517.8" width="16" height="8.2" fill="rgb(184,181,185)"/><rect x="368" y="517.8" width="24" height="8.2" fill="rgb(140,140,140)"/><rect x="392" y="517.8" width="16" height="8.2" fill="rgb(146,149,147)"/><rect x="410" y="517.8" width="34" height="8.2" fill="rgb(155,158,156)"/><rect x="444" y="517.8" width="4" height="8.2" fill="rgb(172,169,174)"/><rect x="448" y="517.8" width="5" height="8.2" fill="rgb(182,179,184)"/><rect x="-26" y="530.2" width="17" height="8.2" fill="rgb(150,153,151)"/><rect x="-9" y="530.2" width="25" height="8.2" fill="rgb(165,162,167)"/><rect x="18" y="530.2" width="13" height="8.2" fill="rgb(130,127,132)"/><rect x="31" y="530.2" width="51" height="8.2" fill="rgb(135,132,137)"/><rect x="84" y="530.2" width="26" height="8.2" fill="rgb(140,137,141)"/><rect x="110" y="530.2" width="41" height="8.2" fill="rgb(129,126,131)"/><rect x="153" y="530.2" width="26" height="8.2" fill="rgb(172,169,173)"/><rect x="179" y="530.2" width="4" height="8.2" fill="rgb(133,130,134)"/><rect x="185" y="530.2" width="32" height="8.2" fill="rgb(129,132,130)"/><rect x="219" y="530.2" width="38" height="8.2" fill="rgb(188,185,189)"/><rect x="257" y="530.2" width="13" height="8.2" fill="rgb(135,132,136)"/><rect x="272" y="530.2" width="52" height="8.2" fill="rgb(141,144,142)"/><rect x="326" y="530.2" width="41" height="8.2" fill="rgb(130,127,132)"/><rect x="369" y="530.2" width="68" height="8.2" fill="rgb(183,180,184)"/><rect x="439" y="530.2" width="34" height="8.2" fill="rgb(132,135,133)"/><rect x="473" y="530.2" width="34" height="8.2" fill="rgb(137,134,138)"/><rect x="-12" y="542.7" width="25" height="8.2" fill="rgb(157,154,158)"/><rect x="13" y="542.7" width="21" height="8.2" fill="rgb(131,128,132)"/><rect x="36" y="542.7" width="7" height="8.2" fill="rgb(175,172,176)"/><rect x="43" y="542.7" width="37" height="8.2" fill="rgb(188,185,189)"/><rect x="82" y="542.7" width="22" height="8.2" fill="rgb(170,167,171)"/><rect x="104" y="542.7" width="36" height="8.2" fill="rgb(129,129,129)"/><rect x="140" y="542.7" width="8" height="8.2" fill="rgb(129,129,129)"/><rect x="150" y="542.7" width="61" height="8.2" fill="rgb(150,150,150)"/><rect x="213" y="542.7" width="73" height="8.2" fill="rgb(159,162,160)"/><rect x="288" y="542.7" width="41" height="8.2" fill="rgb(166,163,167)"/><rect x="331" y="542.7" width="4" height="8.2" fill="rgb(146,143,148)"/><rect x="335" y="542.7" width="12" height="8.2" fill="rgb(130,127,131)"/><rect x="347" y="542.7" width="22" height="8.2" fill="rgb(159,156,161)"/><rect x="371" y="542.7" width="35" height="8.2" fill="rgb(167,164,168)"/><rect x="406" y="542.7" width="24" height="8.2" fill="rgb(178,181,179)"/><rect x="432" y="542.7" width="22" height="8.2" fill="rgb(178,181,179)"/><rect x="454" y="542.7" width="22" height="8.2" fill="rgb(191,188,192)"/><rect x="-13" y="555.1" width="11" height="8.2" fill="rgb(191,188,192)"/><rect x="-2" y="555.1" width="48" height="8.2" fill="rgb(177,174,179)"/><rect x="48" y="555.1" width="59" height="8.2" fill="rgb(170,167,171)"/><rect x="109" y="555.1" width="50" height="8.2" fill="rgb(153,153,153)"/><rect x="161" y="555.1" width="4" height="8.2" fill="rgb(149,152,150)"/><rect x="165" y="555.1" width="20" height="8.2" fill="rgb(149,146,150)"/><rect x="185" y="555.1" width="9" height="8.2" fill="rgb(152,155,153)"/><rect x="196" y="555.1" width="28" height="8.2" fill="rgb(187,184,188)"/><rect x="224" y="555.1" width="32" height="8.2" fill="rgb(142,142,142)"/><rect x="258" y="555.1" width="36" height="8.2" fill="rgb(147,150,148)"/><rect x="296" y="555.1" width="32" height="8.2" fill="rgb(167,170,168)"/><rect x="328" y="555.1" width="16" height="8.2" fill="rgb(177,174,178)"/><rect x="346" y="555.1" width="20" height="8.2" fill="rgb(163,166,164)"/><rect x="366" y="555.1" width="12" height="8.2" fill="rgb(138,135,139)"/><rect x="378" y="555.1" width="6" height="8.2" fill="rgb(160,157,161)"/><rect x="386" y="555.1" width="68" height="8.2" fill="rgb(142,139,143)"/><rect x="454" y="555.1" width="4" height="8.2" fill="rgb(150,147,151)"/><rect x="-38" y="567.6" width="11" height="8.2" fill="rgb(176,173,177)"/><rect x="-27" y="567.6" width="26" height="8.2" fill="rgb(163,166,164)"/><rect x="1" y="567.6" width="19" height="8.2" fill="rgb(146,149,147)"/><rect x="20" y="567.6" width="31" height="8.2" fill="rgb(147,144,148)"/><rect x="53" y="567.6" width="25" height="8.2" fill="rgb(132,135,133)"/><rect x="78" y="567.6" width="9" height="8.2" fill="rgb(150,153,151)"/><rect x="89" y="567.6" width="27" height="8.2" fill="rgb(147,147,147)"/><rect x="116" y="567.6" width="10" height="8.2" fill="rgb(143,146,144)"/><rect x="128" y="567.6" width="34" height="8.2" fill="rgb(143,146,144)"/><rect x="164" y="567.6" width="4" height="8.2" fill="rgb(153,153,153)"/><rect x="168" y="567.6" width="2" height="8.2" fill="rgb(170,173,171)"/><rect x="170" y="567.6" width="46" height="8.2" fill="rgb(163,160,164)"/><rect x="218" y="567.6" width="5" height="8.2" fill="rgb(141,144,142)"/><rect x="223" y="567.6" width="8" height="8.2" fill="rgb(175,175,175)"/><rect x="231" y="567.6" width="33" height="8.2" fill="rgb(131,128,132)"/><rect x="266" y="567.6" width="30" height="8.2" fill="rgb(180,183,181)"/><rect x="296" y="567.6" width="10" height="8.2" fill="rgb(173,170,174)"/><rect x="306" y="567.6" width="3" height="8.2" fill="rgb(172,169,173)"/><rect x="311" y="567.6" width="27" height="8.2" fill="rgb(169,166,171)"/><rect x="338" y="567.6" width="45" height="8.2" fill="rgb(157,157,157)"/><rect x="385" y="567.6" width="44" height="8.2" fill="rgb(172,169,174)"/><rect x="429" y="567.6" width="4" height="8.2" fill="rgb(185,185,185)"/><rect x="435" y="567.6" width="14" height="8.2" fill="rgb(182,182,182)"/><rect x="449" y="567.6" width="6" height="8.2" fill="rgb(158,158,158)"/><rect x="455" y="567.6" width="23" height="8.2" fill="rgb(126,129,127)"/><rect x="-25" y="580.0" width="45" height="8.2" fill="rgb(148,145,150)"/><rect x="20" y="580.0" width="16" height="8.2" fill="rgb(152,152,152)"/><rect x="38" y="580.0" width="34" height="8.2" fill="rgb(141,144,142)"/><rect x="74" y="580.0" width="16" height="8.2" fill="rgb(163,160,164)"/><rect x="90" y="580.0" width="25" height="8.2" fill="rgb(131,134,132)"/><rect x="117" y="580.0" width="49" height="8.2" fill="rgb(155,158,156)"/><rect x="166" y="580.0" width="8" height="8.2" fill="rgb(132,129,133)"/><rect x="176" y="580.0" width="30" height="8.2" fill="rgb(175,175,175)"/><rect x="206" y="580.0" width="21" height="8.2" fill="rgb(144,141,145)"/><rect x="229" y="580.0" width="11" height="8.2" fill="rgb(171,174,172)"/><rect x="240" y="580.0" width="25" height="8.2" fill="rgb(153,150,154)"/><rect x="265" y="580.0" width="3" height="8.2" fill="rgb(133,130,134)"/><rect x="270" y="580.0" width="7" height="8.2" fill="rgb(128,125,130)"/><rect x="277" y="580.0" width="22" height="8.2" fill="rgb(154,154,154)"/><rect x="299" y="580.0" width="16" height="8.2" fill="rgb(171,168,172)"/><rect x="317" y="580.0" width="37" height="8.2" fill="rgb(132,135,133)"/><rect x="354" y="580.0" width="34" height="8.2" fill="rgb(150,147,151)"/><rect x="390" y="580.0" width="29" height="8.2" fill="rgb(155,158,156)"/><rect x="419" y="580.0" width="24" height="8.2" fill="rgb(136,139,137)"/><rect x="445" y="580.0" width="19" height="8.2" fill="rgb(166,169,167)"/><rect x="464" y="580.0" width="13" height="8.2" fill="rgb(172,175,173)"/><rect x="-8" y="592.5" width="22" height="8.2" fill="rgb(173,176,174)"/><rect x="14" y="592.5" width="11" height="8.2" fill="rgb(167,170,168)"/><rect x="25" y="592.5" width="17" height="8.2" fill="rgb(177,177,177)"/><rect x="44" y="592.5" width="21" height="8.2" fill="rgb(173,173,173)"/><rect x="65" y="592.5" width="29" height="8.2" fill="rgb(173,170,174)"/><rect x="96" y="592.5" width="34" height="8.2" fill="rgb(131,128,132)"/><rect x="130" y="592.5" width="21" height="8.2" fill="rgb(181,178,182)"/><rect x="153" y="592.5" width="45" height="8.2" fill="rgb(149,146,150)"/><rect x="198" y="592.5" width="5" height="8.2" fill="rgb(158,158,158)"/><rect x="205" y="592.5" width="55" height="8.2" fill="rgb(172,169,173)"/><rect x="262" y="592.5" width="31" height="8.2" fill="rgb(152,149,154)"/><rect x="293" y="592.5" width="6" height="8.2" fill="rgb(130,133,131)"/><rect x="301" y="592.5" width="37" height="8.2" fill="rgb(183,180,184)"/><rect x="338" y="592.5" width="11" height="8.2" fill="rgb(165,168,166)"/><rect x="351" y="592.5" width="28" height="8.2" fill="rgb(141,138,143)"/><rect x="381" y="592.5" width="20" height="8.2" fill="rgb(166,163,168)"/><rect x="401" y="592.5" width="49" height="8.2" fill="rgb(163,166,164)"/><rect x="-13" y="605.0" width="13" height="8.2" fill="rgb(141,141,141)"/><rect x="0" y="605.0" width="13" height="8.2" fill="rgb(175,178,176)"/><rect x="13" y="605.0" width="13" height="8.2" fill="rgb(135,138,136)"/><rect x="28" y="605.0" width="72" height="8.2" fill="rgb(167,170,168)"/><rect x="102" y="605.0" width="16" height="8.2" fill="rgb(162,159,163)"/><rect x="118" y="605.0" width="52" height="8.2" fill="rgb(138,141,139)"/><rect x="172" y="605.0" width="7" height="8.2" fill="rgb(163,160,165)"/><rect x="179" y="605.0" width="18" height="8.2" fill="rgb(144,144,144)"/><rect x="197" y="605.0" width="8" height="8.2" fill="rgb(140,143,141)"/><rect x="207" y="605.0" width="7" height="8.2" fill="rgb(158,158,158)"/><rect x="214" y="605.0" width="32" height="8.2" fill="rgb(183,186,184)"/><rect x="246" y="605.0" width="19" height="8.2" fill="rgb(172,172,172)"/><rect x="267" y="605.0" width="14" height="8.2" fill="rgb(169,166,170)"/><rect x="281" y="605.0" width="24" height="8.2" fill="rgb(126,129,127)"/><rect x="305" y="605.0" width="5" height="8.2" fill="rgb(183,180,184)"/><rect x="312" y="605.0" width="22" height="8.2" fill="rgb(181,181,181)"/><rect x="334" y="605.0" width="24" height="8.2" fill="rgb(151,151,151)"/><rect x="358" y="605.0" width="11" height="8.2" fill="rgb(157,154,158)"/><rect x="371" y="605.0" width="24" height="8.2" fill="rgb(154,151,155)"/><rect x="395" y="605.0" width="8" height="8.2" fill="rgb(169,166,171)"/><rect x="405" y="605.0" width="29" height="8.2" fill="rgb(174,171,175)"/><rect x="436" y="605.0" width="49" height="8.2" fill="rgb(160,160,160)"/><rect x="-30" y="617.4" width="37" height="8.2" fill="rgb(144,141,145)"/><rect x="9" y="617.4" width="25" height="8.2" fill="rgb(137,134,138)"/><rect x="34" y="617.4" width="29" height="8.2" fill="rgb(153,150,154)"/><rect x="65" y="617.4" width="22" height="8.2" fill="rgb(157,154,158)"/><rect x="87" y="617.4" width="36" height="8.2" fill="rgb(157,154,158)"/><rect x="125" y="617.4" width="63" height="8.2" fill="rgb(182,179,183)"/><rect x="190" y="617.4" width="35" height="8.2" fill="rgb(155,152,156)"/><rect x="225" y="617.4" width="11" height="8.2" fill="rgb(162,159,163)"/><rect x="238" y="617.4" width="17" height="8.2" fill="rgb(169,169,169)"/><rect x="255" y="617.4" width="43" height="8.2" fill="rgb(178,175,180)"/><rect x="300" y="617.4" width="24" height="8.2" fill="rgb(175,172,176)"/><rect x="324" y="617.4" width="25" height="8.2" fill="rgb(133,136,134)"/><rect x="351" y="617.4" width="68" height="8.2" fill="rgb(178,175,180)"/><rect x="421" y="617.4" width="38" height="8.2" fill="rgb(131,131,131)"/><rect x="459" y="617.4" width="2" height="8.2" fill="rgb(147,144,149)"/><rect x="461" y="617.4" width="13" height="8.2" fill="rgb(128,125,130)"/><rect x="-11" y="629.9" width="58" height="8.2" fill="rgb(175,178,176)"/><rect x="49" y="629.9" width="13" height="8.2" fill="rgb(171,168,172)"/><rect x="62" y="629.9" width="30" height="8.2" fill="rgb(175,172,176)"/><rect x="92" y="629.9" width="19" height="8.2" fill="rgb(169,166,170)"/><rect x="113" y="629.9" width="5" height="8.2" fill="rgb(173,170,174)"/><rect x="118" y="629.9" width="28" height="8.2" fill="rgb(160,157,161)"/><rect x="148" y="629.9" width="39" height="8.2" fill="rgb(168,171,169)"/><rect x="189" y="629.9" width="7" height="8.2" fill="rgb(130,127,131)"/><rect x="196" y="629.9" width="17" height="8.2" fill="rgb(181,184,182)"/><rect x="213" y="629.9" width="6" height="8.2" fill="rgb(180,177,181)"/><rect x="221" y="629.9" width="59" height="8.2" fill="rgb(145,148,146)"/><rect x="280" y="629.9" width="4" height="8.2" fill="rgb(154,151,156)"/><rect x="286" y="629.9" width="48" height="8.2" fill="rgb(152,155,153)"/><rect x="336" y="629.9" width="69" height="8.2" fill="rgb(156,159,157)"/><rect x="407" y="629.9" width="61" height="8.2" fill="rgb(180,177,182)"/><rect x="-48" y="642.3" width="8" height="8.2" fill="rgb(131,128,132)"/><rect x="-40" y="642.3" width="24" height="8.2" fill="rgb(149,152,150)"/><rect x="-16" y="642.3" width="22" height="8.2" fill="rgb(168,165,169)"/><rect x="8" y="642.3" width="17" height="8.2" fill="rgb(163,160,165)"/><rect x="25" y="642.3" width="11" height="8.2" fill="rgb(136,133,137)"/><rect x="36" y="642.3" width="9" height="8.2" fill="rgb(156,159,157)"/><rect x="47" y="642.3" width="37" height="8.2" fill="rgb(155,152,157)"/><rect x="86" y="642.3" width="28" height="8.2" fill="rgb(182,179,184)"/><rect x="116" y="642.3" width="41" height="8.2" fill="rgb(136,136,136)"/><rect x="159" y="642.3" width="22" height="8.2" fill="rgb(143,143,143)"/><rect x="181" y="642.3" width="7" height="8.2" fill="rgb(177,174,178)"/><rect x="190" y="642.3" width="39" height="8.2" fill="rgb(154,151,155)"/><rect x="231" y="642.3" width="14" height="8.2" fill="rgb(149,146,150)"/><rect x="245" y="642.3" width="59" height="8.2" fill="rgb(166,163,167)"/><rect x="306" y="642.3" width="20" height="8.2" fill="rgb(186,183,188)"/><rect x="326" y="642.3" width="26" height="8.2" fill="rgb(173,170,175)"/><rect x="352" y="642.3" width="13" height="8.2" fill="rgb(128,125,130)"/><rect x="367" y="642.3" width="28" height="8.2" fill="rgb(154,151,155)"/><rect x="397" y="642.3" width="35" height="8.2" fill="rgb(166,163,168)"/><rect x="432" y="642.3" width="12" height="8.2" fill="rgb(150,147,151)"/><rect x="-35" y="654.8" width="14" height="8.2" fill="rgb(137,134,139)"/><rect x="-21" y="654.8" width="33" height="8.2" fill="rgb(154,151,155)"/><rect x="12" y="654.8" width="9" height="8.2" fill="rgb(141,138,142)"/><rect x="23" y="654.8" width="28" height="8.2" fill="rgb(190,187,191)"/><rect x="51" y="654.8" width="4" height="8.2" fill="rgb(175,178,176)"/><rect x="55" y="654.8" width="22" height="8.2" fill="rgb(151,148,152)"/><rect x="79" y="654.8" width="45" height="8.2" fill="rgb(170,167,171)"/><rect x="126" y="654.8" width="5" height="8.2" fill="rgb(179,182,180)"/><rect x="131" y="654.8" width="68" height="8.2" fill="rgb(168,165,169)"/><rect x="201" y="654.8" width="19" height="8.2" fill="rgb(152,152,152)"/><rect x="220" y="654.8" width="41" height="8.2" fill="rgb(171,171,171)"/><rect x="261" y="654.8" width="5" height="8.2" fill="rgb(164,167,165)"/><rect x="268" y="654.8" width="48" height="8.2" fill="rgb(130,127,131)"/><rect x="316" y="654.8" width="8" height="8.2" fill="rgb(146,143,147)"/><rect x="326" y="654.8" width="41" height="8.2" fill="rgb(186,183,188)"/><rect x="367" y="654.8" width="14" height="8.2" fill="rgb(144,147,145)"/><rect x="383" y="654.8" width="21" height="8.2" fill="rgb(179,182,180)"/><rect x="404" y="654.8" width="43" height="8.2" fill="rgb(171,171,171)"/><rect x="-21" y="667.2" width="62" height="8.2" fill="rgb(159,162,160)"/><rect x="43" y="667.2" width="16" height="8.2" fill="rgb(179,176,180)"/><rect x="59" y="667.2" width="38" height="8.2" fill="rgb(185,188,186)"/><rect x="97" y="667.2" width="5" height="8.2" fill="rgb(144,147,145)"/><rect x="104" y="667.2" width="18" height="8.2" fill="rgb(143,140,144)"/><rect x="122" y="667.2" width="8" height="8.2" fill="rgb(165,162,167)"/><rect x="130" y="667.2" width="5" height="8.2" fill="rgb(178,178,178)"/><rect x="137" y="667.2" width="57" height="8.2" fill="rgb(164,161,165)"/><rect x="196" y="667.2" width="16" height="8.2" fill="rgb(162,165,163)"/><rect x="212" y="667.2" width="16" height="8.2" fill="rgb(187,184,188)"/><rect x="230" y="667.2" width="34" height="8.2" fill="rgb(157,160,158)"/><rect x="264" y="667.2" width="27" height="8.2" fill="rgb(138,141,139)"/><rect x="293" y="667.2" width="9" height="8.2" fill="rgb(142,139,143)"/><rect x="302" y="667.2" width="32" height="8.2" fill="rgb(148,145,149)"/><rect x="336" y="667.2" width="29" height="8.2" fill="rgb(174,177,175)"/><rect x="365" y="667.2" width="35" height="8.2" fill="rgb(180,183,181)"/><rect x="402" y="667.2" width="43" height="8.2" fill="rgb(187,187,187)"/><rect x="-22" y="679.7" width="24" height="8.2" fill="rgb(157,154,159)"/><rect x="2" y="679.7" width="10" height="8.2" fill="rgb(139,136,140)"/><rect x="14" y="679.7" width="66" height="8.2" fill="rgb(152,149,153)"/><rect x="82" y="679.7" width="61" height="8.2" fill="rgb(134,131,136)"/><rect x="145" y="679.7" width="17" height="8.2" fill="rgb(189,186,190)"/><rect x="162" y="679.7" width="3" height="8.2" fill="rgb(155,152,157)"/><rect x="165" y="679.7" width="21" height="8.2" fill="rgb(188,188,188)"/><rect x="188" y="679.7" width="20" height="8.2" fill="rgb(181,178,183)"/><rect x="208" y="679.7" width="45" height="8.2" fill="rgb(147,150,148)"/><rect x="255" y="679.7" width="5" height="8.2" fill="rgb(131,128,133)"/><rect x="260" y="679.7" width="4" height="8.2" fill="rgb(165,162,166)"/><rect x="264" y="679.7" width="30" height="8.2" fill="rgb(186,183,187)"/><rect x="296" y="679.7" width="8" height="8.2" fill="rgb(168,168,168)"/><rect x="304" y="679.7" width="34" height="8.2" fill="rgb(187,184,189)"/><rect x="338" y="679.7" width="15" height="8.2" fill="rgb(173,170,175)"/><rect x="355" y="679.7" width="40" height="8.2" fill="rgb(145,142,146)"/><rect x="395" y="679.7" width="4" height="8.2" fill="rgb(136,133,137)"/><rect x="401" y="679.7" width="15" height="8.2" fill="rgb(180,183,181)"/><rect x="416" y="679.7" width="17" height="8.2" fill="rgb(149,152,150)"/><rect x="433" y="679.7" width="28" height="8.2" fill="rgb(172,175,173)"/><rect x="-10" y="692.1" width="15" height="8.2" fill="rgb(128,131,129)"/><rect x="5" y="692.1" width="15" height="8.2" fill="rgb(185,182,187)"/><rect x="22" y="692.1" width="20" height="8.2" fill="rgb(176,173,177)"/><rect x="42" y="692.1" width="11" height="8.2" fill="rgb(169,169,169)"/><rect x="55" y="692.1" width="31" height="8.2" fill="rgb(139,136,140)"/><rect x="88" y="692.1" width="25" height="8.2" fill="rgb(177,174,178)"/><rect x="113" y="692.1" width="3" height="8.2" fill="rgb(162,165,163)"/><rect x="118" y="692.1" width="56" height="8.2" fill="rgb(160,157,161)"/><rect x="176" y="692.1" width="28" height="8.2" fill="rgb(137,134,138)"/><rect x="204" y="692.1" width="23" height="8.2" fill="rgb(158,158,158)"/><rect x="229" y="692.1" width="13" height="8.2" fill="rgb(189,186,190)"/><rect x="242" y="692.1" width="6" height="8.2" fill="rgb(185,182,187)"/><rect x="248" y="692.1" width="19" height="8.2" fill="rgb(160,157,161)"/><rect x="269" y="692.1" width="40" height="8.2" fill="rgb(136,139,137)"/><rect x="311" y="692.1" width="27" height="8.2" fill="rgb(136,136,136)"/><rect x="338" y="692.1" width="5" height="8.2" fill="rgb(134,134,134)"/><rect x="345" y="692.1" width="29" height="8.2" fill="rgb(158,155,159)"/><rect x="376" y="692.1" width="34" height="8.2" fill="rgb(138,135,139)"/><rect x="410" y="692.1" width="14" height="8.2" fill="rgb(149,152,150)"/><rect x="426" y="692.1" width="7" height="8.2" fill="rgb(142,139,143)"/><rect x="433" y="692.1" width="42" height="8.2" fill="rgb(153,156,154)"/><rect x="-8" y="704.6" width="21" height="8.2" fill="rgb(154,154,154)"/><rect x="13" y="704.6" width="35" height="8.2" fill="rgb(141,144,142)"/><rect x="50" y="704.6" width="22" height="8.2" fill="rgb(183,180,184)"/><rect x="72" y="704.6" width="7" height="8.2" fill="rgb(147,150,148)"/><rect x="81" y="704.6" width="10" height="8.2" fill="rgb(157,157,157)"/><rect x="91" y="704.6" width="14" height="8.2" fill="rgb(133,136,134)"/><rect x="105" y="704.6" width="20" height="8.2" fill="rgb(160,157,162)"/><rect x="127" y="704.6" width="39" height="8.2" fill="rgb(160,157,161)"/><rect x="166" y="704.6" width="29" height="8.2" fill="rgb(137,134,138)"/><rect x="197" y="704.6" width="31" height="8.2" fill="rgb(142,145,143)"/><rect x="228" y="704.6" width="9" height="8.2" fill="rgb(185,188,186)"/><rect x="239" y="704.6" width="13" height="8.2" fill="rgb(183,186,184)"/><rect x="252" y="704.6" width="4" height="8.2" fill="rgb(134,131,135)"/><rect x="256" y="704.6" width="17" height="8.2" fill="rgb(144,147,145)"/><rect x="275" y="704.6" width="68" height="8.2" fill="rgb(153,156,154)"/><rect x="345" y="704.6" width="32" height="8.2" fill="rgb(125,128,126)"/><rect x="377" y="704.6" width="17" height="8.2" fill="rgb(144,147,145)"/><rect x="396" y="704.6" width="6" height="8.2" fill="rgb(143,140,144)"/><rect x="402" y="704.6" width="24" height="8.2" fill="rgb(162,165,163)"/><rect x="426" y="704.6" width="21" height="8.2" fill="rgb(134,137,135)"/><rect x="-32" y="717.0" width="16" height="8.2" fill="rgb(166,163,168)"/><rect x="-16" y="717.0" width="26" height="8.2" fill="rgb(181,178,183)"/><rect x="12" y="717.0" width="21" height="8.2" fill="rgb(137,140,138)"/><rect x="33" y="717.0" width="31" height="8.2" fill="rgb(133,136,134)"/><rect x="64" y="717.0" width="14" height="8.2" fill="rgb(173,170,174)"/><rect x="80" y="717.0" width="41" height="8.2" fill="rgb(145,148,146)"/><rect x="121" y="717.0" width="27" height="8.2" fill="rgb(128,125,130)"/><rect x="150" y="717.0" width="11" height="8.2" fill="rgb(151,148,152)"/><rect x="161" y="717.0" width="37" height="8.2" fill="rgb(184,181,185)"/><rect x="198" y="717.0" width="24" height="8.2" fill="rgb(183,183,183)"/><rect x="224" y="717.0" width="33" height="8.2" fill="rgb(154,154,154)"/><rect x="259" y="717.0" width="11" height="8.2" fill="rgb(136,139,137)"/><rect x="270" y="717.0" width="25" height="8.2" fill="rgb(183,180,184)"/><rect x="297" y="717.0" width="26" height="8.2" fill="rgb(148,151,149)"/><rect x="323" y="717.0" width="4" height="8.2" fill="rgb(166,163,168)"/><rect x="329" y="717.0" width="8" height="8.2" fill="rgb(137,134,138)"/><rect x="337" y="717.0" width="29" height="8.2" fill="rgb(171,174,172)"/><rect x="366" y="717.0" width="13" height="8.2" fill="rgb(182,179,183)"/><rect x="381" y="717.0" width="11" height="8.2" fill="rgb(183,180,185)"/><rect x="392" y="717.0" width="30" height="8.2" fill="rgb(174,174,174)"/><rect x="422" y="717.0" width="32" height="8.2" fill="rgb(153,156,154)"/><rect x="0" y="729.5" width="5" height="8.2" fill="rgb(143,140,145)"/><rect x="5" y="729.5" width="56" height="8.2" fill="rgb(139,142,140)"/><rect x="63" y="729.5" width="10" height="8.2" fill="rgb(149,146,150)"/><rect x="73" y="729.5" width="29" height="8.2" fill="rgb(163,160,165)"/><rect x="104" y="729.5" width="29" height="8.2" fill="rgb(190,187,191)"/><rect x="135" y="729.5" width="5" height="8.2" fill="rgb(178,181,179)"/><rect x="140" y="729.5" width="35" height="8.2" fill="rgb(165,168,166)"/><rect x="177" y="729.5" width="48" height="8.2" fill="rgb(156,153,158)"/><rect x="225" y="729.5" width="9" height="8.2" fill="rgb(150,147,152)"/><rect x="236" y="729.5" width="9" height="8.2" fill="rgb(145,142,147)"/><rect x="245" y="729.5" width="64" height="8.2" fill="rgb(157,157,157)"/><rect x="311" y="729.5" width="11" height="8.2" fill="rgb(135,132,137)"/><rect x="322" y="729.5" width="54" height="8.2" fill="rgb(151,154,152)"/><rect x="378" y="729.5" width="59" height="8.2" fill="rgb(140,143,141)"/><rect x="437" y="729.5" width="3" height="8.2" fill="rgb(167,170,168)"/><rect x="442" y="729.5" width="5" height="8.2" fill="rgb(191,188,192)"/><rect x="447" y="729.5" width="9" height="8.2" fill="rgb(155,152,156)"/><rect x="456" y="729.5" width="43" height="8.2" fill="rgb(151,154,152)"/><rect x="-37" y="741.9" width="61" height="8.2" fill="rgb(153,150,155)"/><rect x="26" y="741.9" width="29" height="8.2" fill="rgb(145,142,146)"/><rect x="55" y="741.9" width="22" height="8.2" fill="rgb(173,173,173)"/><rect x="79" y="741.9" width="56" height="8.2" fill="rgb(150,153,151)"/><rect x="135" y="741.9" width="8" height="8.2" fill="rgb(133,130,134)"/><rect x="145" y="741.9" width="47" height="8.2" fill="rgb(189,186,190)"/><rect x="192" y="741.9" width="14" height="8.2" fill="rgb(143,143,143)"/><rect x="208" y="741.9" width="70" height="8.2" fill="rgb(151,148,153)"/><rect x="280" y="741.9" width="8" height="8.2" fill="rgb(148,148,148)"/><rect x="288" y="741.9" width="53" height="8.2" fill="rgb(137,140,138)"/><rect x="343" y="741.9" width="70" height="8.2" fill="rgb(140,143,141)"/><rect x="415" y="741.9" width="33" height="8.2" fill="rgb(130,127,132)"/><rect x="448" y="741.9" width="11" height="8.2" fill="rgb(133,130,134)"/><rect x="459" y="741.9" width="10" height="8.2" fill="rgb(169,166,170)"/><rect x="-42" y="754.4" width="44" height="8.2" fill="rgb(162,159,164)"/><rect x="2" y="754.4" width="23" height="8.2" fill="rgb(167,164,169)"/><rect x="27" y="754.4" width="44" height="8.2" fill="rgb(161,158,163)"/><rect x="73" y="754.4" width="6" height="8.2" fill="rgb(146,143,148)"/><rect x="79" y="754.4" width="49" height="8.2" fill="rgb(149,146,150)"/><rect x="130" y="754.4" width="11" height="8.2" fill="rgb(128,131,129)"/><rect x="141" y="754.4" width="58" height="8.2" fill="rgb(183,186,184)"/><rect x="201" y="754.4" width="45" height="8.2" fill="rgb(154,157,155)"/><rect x="248" y="754.4" width="32" height="8.2" fill="rgb(132,135,133)"/><rect x="280" y="754.4" width="30" height="8.2" fill="rgb(138,135,139)"/><rect x="312" y="754.4" width="21" height="8.2" fill="rgb(146,143,147)"/><rect x="333" y="754.4" width="33" height="8.2" fill="rgb(136,133,137)"/><rect x="368" y="754.4" width="57" height="8.2" fill="rgb(154,157,155)"/><rect x="425" y="754.4" width="5" height="8.2" fill="rgb(169,172,170)"/><rect x="432" y="754.4" width="16" height="8.2" fill="rgb(175,172,176)"/><rect x="448" y="754.4" width="23" height="8.2" fill="rgb(154,157,155)"/><rect x="471" y="754.4" width="3" height="8.2" fill="rgb(144,147,145)"/><rect x="-29" y="766.8" width="5" height="8.2" fill="rgb(145,142,146)"/><rect x="-24" y="766.8" width="53" height="8.2" fill="rgb(140,143,141)"/><rect x="31" y="766.8" width="29" height="8.2" fill="rgb(130,127,131)"/><rect x="60" y="766.8" width="12" height="8.2" fill="rgb(136,139,137)"/><rect x="72" y="766.8" width="19" height="8.2" fill="rgb(145,148,146)"/><rect x="93" y="766.8" width="21" height="8.2" fill="rgb(182,185,183)"/><rect x="114" y="766.8" width="1" height="8.2" fill="rgb(146,143,148)"/><rect x="115" y="766.8" width="26" height="8.2" fill="rgb(177,174,179)"/><rect x="143" y="766.8" width="38" height="8.2" fill="rgb(168,165,169)"/><rect x="183" y="766.8" width="56" height="8.2" fill="rgb(161,161,161)"/><rect x="241" y="766.8" width="51" height="8.2" fill="rgb(176,173,178)"/><rect x="292" y="766.8" width="5" height="8.2" fill="rgb(159,162,160)"/><rect x="299" y="766.8" width="57" height="8.2" fill="rgb(152,149,153)"/><rect x="356" y="766.8" width="14" height="8.2" fill="rgb(148,151,149)"/><rect x="372" y="766.8" width="39" height="8.2" fill="rgb(177,180,178)"/><rect x="411" y="766.8" width="32" height="8.2" fill="rgb(137,134,138)"/><rect x="445" y="766.8" width="54" height="8.2" fill="rgb(171,168,172)"/><rect x="499" y="766.8" width="4" height="8.2" fill="rgb(171,168,172)"/><rect x="-7" y="779.3" width="54" height="8.2" fill="rgb(128,128,128)"/><rect x="49" y="779.3" width="63" height="8.2" fill="rgb(159,159,159)"/><rect x="114" y="779.3" width="30" height="8.2" fill="rgb(184,181,185)"/><rect x="144" y="779.3" width="34" height="8.2" fill="rgb(180,183,181)"/><rect x="180" y="779.3" width="66" height="8.2" fill="rgb(152,152,152)"/><rect x="248" y="779.3" width="40" height="8.2" fill="rgb(148,145,149)"/><rect x="288" y="779.3" width="9" height="8.2" fill="rgb(150,153,151)"/><rect x="297" y="779.3" width="23" height="8.2" fill="rgb(160,163,161)"/><rect x="322" y="779.3" width="4" height="8.2" fill="rgb(181,178,182)"/><rect x="326" y="779.3" width="48" height="8.2" fill="rgb(182,182,182)"/><rect x="376" y="779.3" width="15" height="8.2" fill="rgb(164,161,165)"/><rect x="391" y="779.3" width="8" height="8.2" fill="rgb(177,180,178)"/><rect x="399" y="779.3" width="29" height="8.2" fill="rgb(152,155,153)"/><rect x="430" y="779.3" width="9" height="8.2" fill="rgb(182,179,183)"/><rect x="439" y="779.3" width="43" height="8.2" fill="rgb(145,148,146)"/><rect x="-14" y="791.7" width="31" height="8.2" fill="rgb(185,182,187)"/><rect x="17" y="791.7" width="17" height="8.2" fill="rgb(129,126,131)"/><rect x="36" y="791.7" width="23" height="8.2" fill="rgb(179,176,180)"/><rect x="59" y="791.7" width="15" height="8.2" fill="rgb(159,162,160)"/><rect x="74" y="791.7" width="6" height="8.2" fill="rgb(152,155,153)"/><rect x="82" y="791.7" width="28" height="8.2" fill="rgb(150,147,152)"/><rect x="110" y="791.7" width="5" height="8.2" fill="rgb(169,166,170)"/><rect x="115" y="791.7" width="28" height="8.2" fill="rgb(150,150,150)"/><rect x="145" y="791.7" width="28" height="8.2" fill="rgb(159,162,160)"/><rect x="175" y="791.7" width="15" height="8.2" fill="rgb(156,153,157)"/><rect x="190" y="791.7" width="5" height="8.2" fill="rgb(160,163,161)"/><rect x="195" y="791.7" width="14" height="8.2" fill="rgb(135,138,136)"/><rect x="211" y="791.7" width="29" height="8.2" fill="rgb(174,177,175)"/><rect x="240" y="791.7" width="3" height="8.2" fill="rgb(182,185,183)"/><rect x="243" y="791.7" width="22" height="8.2" fill="rgb(152,149,153)"/><rect x="267" y="791.7" width="61" height="8.2" fill="rgb(140,137,141)"/><rect x="330" y="791.7" width="8" height="8.2" fill="rgb(182,179,183)"/><rect x="338" y="791.7" width="40" height="8.2" fill="rgb(158,161,159)"/><rect x="380" y="791.7" width="26" height="8.2" fill="rgb(146,149,147)"/><rect x="406" y="791.7" width="9" height="8.2" fill="rgb(184,184,184)"/><rect x="417" y="791.7" width="37" height="8.2" fill="rgb(143,146,144)"/><rect x="454" y="791.7" width="31" height="8.2" fill="rgb(138,141,139)"/><rect x="-11" y="804.2" width="7" height="8.2" fill="rgb(165,168,166)"/><rect x="-4" y="804.2" width="47" height="8.2" fill="rgb(166,163,168)"/><rect x="45" y="804.2" width="50" height="8.2" fill="rgb(172,172,172)"/><rect x="97" y="804.2" width="28" height="8.2" fill="rgb(150,147,151)"/><rect x="127" y="804.2" width="72" height="8.2" fill="rgb(188,185,189)"/><rect x="201" y="804.2" width="53" height="8.2" fill="rgb(165,162,167)"/><rect x="256" y="804.2" width="70" height="8.2" fill="rgb(138,141,139)"/><rect x="328" y="804.2" width="45" height="8.2" fill="rgb(182,185,183)"/><rect x="373" y="804.2" width="14" height="8.2" fill="rgb(158,161,159)"/><rect x="389" y="804.2" width="30" height="8.2" fill="rgb(166,163,168)"/><rect x="419" y="804.2" width="34" height="8.2" fill="rgb(135,138,136)"/><rect x="-32" y="816.6" width="60" height="8.2" fill="rgb(129,126,131)"/><rect x="30" y="816.6" width="20" height="8.2" fill="rgb(159,159,159)"/><rect x="50" y="816.6" width="12" height="8.2" fill="rgb(167,167,167)"/><rect x="64" y="816.6" width="31" height="8.2" fill="rgb(168,171,169)"/><rect x="97" y="816.6" width="19" height="8.2" fill="rgb(152,149,153)"/><rect x="116" y="816.6" width="29" height="8.2" fill="rgb(138,135,140)"/><rect x="147" y="816.6" width="45" height="8.2" fill="rgb(179,182,180)"/><rect x="194" y="816.6" width="10" height="8.2" fill="rgb(153,156,154)"/><rect x="204" y="816.6" width="22" height="8.2" fill="rgb(152,149,154)"/><rect x="228" y="816.6" width="16" height="8.2" fill="rgb(165,162,167)"/><rect x="244" y="816.6" width="15" height="8.2" fill="rgb(156,153,158)"/><rect x="261" y="816.6" width="19" height="8.2" fill="rgb(142,139,144)"/><rect x="280" y="816.6" width="48" height="8.2" fill="rgb(135,138,136)"/><rect x="330" y="816.6" width="4" height="8.2" fill="rgb(185,185,185)"/><rect x="334" y="816.6" width="35" height="8.2" fill="rgb(147,147,147)"/><rect x="371" y="816.6" width="60" height="8.2" fill="rgb(159,156,161)"/><rect x="431" y="816.6" width="6" height="8.2" fill="rgb(146,143,147)"/><rect x="439" y="816.6" width="30" height="8.2" fill="rgb(147,147,147)"/><rect x="469" y="816.6" width="22" height="8.2" fill="rgb(187,184,188)"/><rect x="-30" y="829.1" width="6" height="8.2" fill="rgb(137,140,138)"/><rect x="-24" y="829.1" width="23" height="8.2" fill="rgb(150,150,150)"/><rect x="1" y="829.1" width="39" height="8.2" fill="rgb(186,183,187)"/><rect x="42" y="829.1" width="11" height="8.2" fill="rgb(146,149,147)"/><rect x="53" y="829.1" width="42" height="8.2" fill="rgb(183,183,183)"/><rect x="97" y="829.1" width="8" height="8.2" fill="rgb(135,135,135)"/><rect x="105" y="829.1" width="37" height="8.2" fill="rgb(182,179,183)"/><rect x="142" y="829.1" width="4" height="8.2" fill="rgb(161,164,162)"/><rect x="148" y="829.1" width="33" height="8.2" fill="rgb(148,145,149)"/><rect x="181" y="829.1" width="19" height="8.2" fill="rgb(143,143,143)"/><rect x="202" y="829.1" width="25" height="8.2" fill="rgb(131,128,132)"/><rect x="227" y="829.1" width="5" height="8.2" fill="rgb(177,180,178)"/><rect x="234" y="829.1" width="9" height="8.2" fill="rgb(142,139,143)"/><rect x="243" y="829.1" width="34" height="8.2" fill="rgb(160,163,161)"/><rect x="279" y="829.1" width="33" height="8.2" fill="rgb(176,179,177)"/><rect x="312" y="829.1" width="24" height="8.2" fill="rgb(140,137,141)"/><rect x="336" y="829.1" width="6" height="8.2" fill="rgb(148,151,149)"/><rect x="344" y="829.1" width="41" height="8.2" fill="rgb(143,140,144)"/><rect x="385" y="829.1" width="3" height="8.2" fill="rgb(188,188,188)"/><rect x="388" y="829.1" width="9" height="8.2" fill="rgb(158,161,159)"/><rect x="399" y="829.1" width="12" height="8.2" fill="rgb(166,166,166)"/><rect x="411" y="829.1" width="8" height="8.2" fill="rgb(167,164,168)"/><rect x="419" y="829.1" width="22" height="8.2" fill="rgb(160,163,161)"/><rect x="443" y="829.1" width="12" height="8.2" fill="rgb(183,180,185)"/><rect x="455" y="829.1" width="41" height="8.2" fill="rgb(168,171,169)"/><rect x="-4" y="841.5" width="51" height="8.2" fill="rgb(177,177,177)"/><rect x="47" y="841.5" width="11" height="8.2" fill="rgb(132,129,133)"/><rect x="60" y="841.5" width="43" height="8.2" fill="rgb(128,128,128)"/><rect x="103" y="841.5" width="30" height="8.2" fill="rgb(173,170,175)"/><rect x="135" y="841.5" width="33" height="8.2" fill="rgb(146,149,147)"/><rect x="168" y="841.5" width="39" height="8.2" fill="rgb(170,167,172)"/><rect x="209" y="841.5" width="29" height="8.2" fill="rgb(162,159,163)"/><rect x="238" y="841.5" width="3" height="8.2" fill="rgb(140,137,142)"/><rect x="243" y="841.5" width="15" height="8.2" fill="rgb(144,141,145)"/><rect x="258" y="841.5" width="58" height="8.2" fill="rgb(139,136,140)"/><rect x="318" y="841.5" width="26" height="8.2" fill="rgb(153,153,153)"/><rect x="344" y="841.5" width="27" height="8.2" fill="rgb(180,177,181)"/><rect x="373" y="841.5" width="63" height="8.2" fill="rgb(143,146,144)"/><rect x="436" y="841.5" width="5" height="8.2" fill="rgb(131,128,132)"/><rect x="443" y="841.5" width="56" height="8.2" fill="rgb(132,129,133)"/><rect x="499" y="841.5" width="15" height="8.2" fill="rgb(176,173,177)"/><rect x="-28" y="854.0" width="10" height="8.2" fill="rgb(141,138,142)"/><rect x="-18" y="854.0" width="16" height="8.2" fill="rgb(137,134,138)"/><rect x="-2" y="854.0" width="17" height="8.2" fill="rgb(183,186,184)"/><rect x="17" y="854.0" width="42" height="8.2" fill="rgb(153,150,155)"/><rect x="61" y="854.0" width="31" height="8.2" fill="rgb(142,139,143)"/><rect x="92" y="854.0" width="35" height="8.2" fill="rgb(137,137,137)"/><rect x="129" y="854.0" width="24" height="8.2" fill="rgb(166,169,167)"/><rect x="153" y="854.0" width="6" height="8.2" fill="rgb(162,165,163)"/><rect x="161" y="854.0" width="37" height="8.2" fill="rgb(144,144,144)"/><rect x="198" y="854.0" width="12" height="8.2" fill="rgb(173,170,174)"/><rect x="210" y="854.0" width="15" height="8.2" fill="rgb(166,163,167)"/><rect x="227" y="854.0" width="28" height="8.2" fill="rgb(184,181,185)"/><rect x="257" y="854.0" width="46" height="8.2" fill="rgb(181,184,182)"/><rect x="305" y="854.0" width="66" height="8.2" fill="rgb(146,143,147)"/><rect x="373" y="854.0" width="35" height="8.2" fill="rgb(180,177,181)"/><rect x="410" y="854.0" width="9" height="8.2" fill="rgb(157,154,158)"/><rect x="419" y="854.0" width="32" height="8.2" fill="rgb(175,175,175)"/><rect x="-46" y="866.4" width="21" height="8.2" fill="rgb(161,158,163)"/><rect x="-25" y="866.4" width="46" height="8.2" fill="rgb(150,150,150)"/><rect x="23" y="866.4" width="48" height="8.2" fill="rgb(163,160,164)"/><rect x="71" y="866.4" width="8" height="8.2" fill="rgb(175,172,176)"/><rect x="81" y="866.4" width="7" height="8.2" fill="rgb(174,171,175)"/><rect x="88" y="866.4" width="29" height="8.2" fill="rgb(141,141,141)"/><rect x="117" y="866.4" width="32" height="8.2" fill="rgb(168,171,169)"/><rect x="151" y="866.4" width="10" height="8.2" fill="rgb(133,130,134)"/><rect x="161" y="866.4" width="18" height="8.2" fill="rgb(177,180,178)"/><rect x="179" y="866.4" width="8" height="8.2" fill="rgb(142,145,143)"/><rect x="189" y="866.4" width="53" height="8.2" fill="rgb(166,169,167)"/><rect x="242" y="866.4" width="9" height="8.2" fill="rgb(164,161,165)"/><rect x="253" y="866.4" width="43" height="8.2" fill="rgb(140,137,141)"/><rect x="298" y="866.4" width="9" height="8.2" fill="rgb(170,167,171)"/><rect x="307" y="866.4" width="7" height="8.2" fill="rgb(134,137,135)"/><rect x="314" y="866.4" width="34" height="8.2" fill="rgb(174,171,175)"/><rect x="350" y="866.4" width="19" height="8.2" fill="rgb(143,140,145)"/><rect x="369" y="866.4" width="30" height="8.2" fill="rgb(163,160,164)"/><rect x="399" y="866.4" width="10" height="8.2" fill="rgb(154,157,155)"/><rect x="411" y="866.4" width="48" height="8.2" fill="rgb(145,148,146)"/><rect x="459" y="866.4" width="21" height="8.2" fill="rgb(187,184,188)"/><rect x="-8" y="878.9" width="25" height="8.2" fill="rgb(168,165,170)"/><rect x="17" y="878.9" width="40" height="8.2" fill="rgb(163,163,163)"/><rect x="59" y="878.9" width="33" height="8.2" fill="rgb(181,181,181)"/><rect x="92" y="878.9" width="5" height="8.2" fill="rgb(179,182,180)"/><rect x="99" y="878.9" width="4" height="8.2" fill="rgb(151,151,151)"/><rect x="103" y="878.9" width="31" height="8.2" fill="rgb(141,138,143)"/><rect x="136" y="878.9" width="13" height="8.2" fill="rgb(140,137,142)"/><rect x="149" y="878.9" width="18" height="8.2" fill="rgb(174,171,175)"/><rect x="169" y="878.9" width="56" height="8.2" fill="rgb(140,137,141)"/><rect x="227" y="878.9" width="27" height="8.2" fill="rgb(144,147,145)"/><rect x="254" y="878.9" width="13" height="8.2" fill="rgb(163,160,165)"/><rect x="267" y="878.9" width="16" height="8.2" fill="rgb(130,127,132)"/><rect x="285" y="878.9" width="9" height="8.2" fill="rgb(175,172,176)"/><rect x="294" y="878.9" width="42" height="8.2" fill="rgb(172,175,173)"/><rect x="336" y="878.9" width="6" height="8.2" fill="rgb(144,141,146)"/><rect x="344" y="878.9" width="31" height="8.2" fill="rgb(157,160,158)"/><rect x="375" y="878.9" width="34" height="8.2" fill="rgb(175,178,176)"/><rect x="409" y="878.9" width="4" height="8.2" fill="rgb(148,145,150)"/><rect x="415" y="878.9" width="50" height="8.2" fill="rgb(171,168,172)"/><rect x="-39" y="891.3" width="45" height="8.2" fill="rgb(143,140,145)"/><rect x="6" y="891.3" width="22" height="8.2" fill="rgb(139,136,140)"/><rect x="30" y="891.3" width="29" height="8.2" fill="rgb(177,177,177)"/><rect x="61" y="891.3" width="15" height="8.2" fill="rgb(142,139,143)"/><rect x="76" y="891.3" width="22" height="8.2" fill="rgb(164,161,165)"/><rect x="100" y="891.3" width="38" height="8.2" fill="rgb(181,178,182)"/><rect x="140" y="891.3" width="28" height="8.2" fill="rgb(142,139,143)"/><rect x="168" y="891.3" width="19" height="8.2" fill="rgb(182,179,183)"/><rect x="189" y="891.3" width="27" height="8.2" fill="rgb(133,136,134)"/><rect x="216" y="891.3" width="21" height="8.2" fill="rgb(188,185,189)"/><rect x="239" y="891.3" width="7" height="8.2" fill="rgb(130,127,132)"/><rect x="246" y="891.3" width="37" height="8.2" fill="rgb(167,164,168)"/><rect x="285" y="891.3" width="10" height="8.2" fill="rgb(159,159,159)"/><rect x="295" y="891.3" width="21" height="8.2" fill="rgb(162,159,163)"/><rect x="316" y="891.3" width="42" height="8.2" fill="rgb(140,137,141)"/><rect x="360" y="891.3" width="66" height="8.2" fill="rgb(140,137,141)"/><rect x="428" y="891.3" width="12" height="8.2" fill="rgb(159,156,160)"/><rect x="440" y="891.3" width="30" height="8.2" fill="rgb(153,150,155)"/><rect x="-1" y="903.8" width="16" height="8.2" fill="rgb(176,173,177)"/><rect x="15" y="903.8" width="1" height="8.2" fill="rgb(128,125,130)"/><rect x="16" y="903.8" width="39" height="8.2" fill="rgb(178,181,179)"/><rect x="57" y="903.8" width="13" height="8.2" fill="rgb(135,132,136)"/><rect x="70" y="903.8" width="9" height="8.2" fill="rgb(128,131,129)"/><rect x="79" y="903.8" width="38" height="8.2" fill="rgb(173,173,173)"/><rect x="119" y="903.8" width="49" height="8.2" fill="rgb(156,153,158)"/><rect x="170" y="903.8" width="25" height="8.2" fill="rgb(154,151,155)"/><rect x="195" y="903.8" width="45" height="8.2" fill="rgb(128,128,128)"/><rect x="242" y="903.8" width="40" height="8.2" fill="rgb(140,140,140)"/><rect x="282" y="903.8" width="24" height="8.2" fill="rgb(130,133,131)"/><rect x="308" y="903.8" width="31" height="8.2" fill="rgb(189,186,190)"/><rect x="339" y="903.8" width="7" height="8.2" fill="rgb(181,184,182)"/><rect x="346" y="903.8" width="10" height="8.2" fill="rgb(150,153,151)"/><rect x="358" y="903.8" width="67" height="8.2" fill="rgb(179,176,181)"/><rect x="427" y="903.8" width="42" height="8.2" fill="rgb(161,164,162)"/><rect x="469" y="903.8" width="29" height="8.2" fill="rgb(156,153,157)"/><rect x="-29" y="916.2" width="42" height="8.2" fill="rgb(185,182,186)"/><rect x="13" y="916.2" width="28" height="8.2" fill="rgb(164,161,165)"/><rect x="43" y="916.2" width="11" height="8.2" fill="rgb(174,171,175)"/><rect x="54" y="916.2" width="18" height="8.2" fill="rgb(159,156,160)"/><rect x="74" y="916.2" width="25" height="8.2" fill="rgb(167,164,168)"/><rect x="99" y="916.2" width="8" height="8.2" fill="rgb(160,163,161)"/><rect x="109" y="916.2" width="37" height="8.2" fill="rgb(140,143,141)"/><rect x="146" y="916.2" width="17" height="8.2" fill="rgb(156,156,156)"/><rect x="165" y="916.2" width="44" height="8.2" fill="rgb(140,143,141)"/><rect x="211" y="916.2" width="40" height="8.2" fill="rgb(144,141,145)"/><rect x="253" y="916.2" width="69" height="8.2" fill="rgb(137,140,138)"/><rect x="324" y="916.2" width="66" height="8.2" fill="rgb(139,142,140)"/><rect x="390" y="916.2" width="4" height="8.2" fill="rgb(155,158,156)"/><rect x="396" y="916.2" width="62" height="8.2" fill="rgb(172,175,173)"/><rect x="-36" y="928.7" width="64" height="8.2" fill="rgb(182,182,182)"/><rect x="30" y="928.7" width="71" height="8.2" fill="rgb(179,179,179)"/><rect x="103" y="928.7" width="36" height="8.2" fill="rgb(171,168,172)"/><rect x="141" y="928.7" width="60" height="8.2" fill="rgb(160,157,161)"/><rect x="203" y="928.7" width="16" height="8.2" fill="rgb(164,164,164)"/><rect x="219" y="928.7" width="37" height="8.2" fill="rgb(177,174,179)"/><rect x="258" y="928.7" width="28" height="8.2" fill="rgb(167,164,169)"/><rect x="286" y="928.7" width="8" height="8.2" fill="rgb(151,154,152)"/><rect x="296" y="928.7" width="5" height="8.2" fill="rgb(131,128,132)"/><rect x="301" y="928.7" width="26" height="8.2" fill="rgb(164,167,165)"/><rect x="329" y="928.7" width="11" height="8.2" fill="rgb(171,174,172)"/><rect x="340" y="928.7" width="46" height="8.2" fill="rgb(155,152,157)"/><rect x="388" y="928.7" width="40" height="8.2" fill="rgb(138,135,139)"/><rect x="428" y="928.7" width="27" height="8.2" fill="rgb(185,182,186)"/><rect x="-9" y="941.1" width="47" height="8.2" fill="rgb(130,127,131)"/><rect x="38" y="941.1" width="4" height="8.2" fill="rgb(133,136,134)"/><rect x="44" y="941.1" width="35" height="8.2" fill="rgb(127,130,128)"/><rect x="79" y="941.1" width="16" height="8.2" fill="rgb(150,147,152)"/><rect x="97" y="941.1" width="42" height="8.2" fill="rgb(135,132,137)"/><rect x="139" y="941.1" width="8" height="8.2" fill="rgb(190,187,191)"/><rect x="149" y="941.1" width="26" height="8.2" fill="rgb(143,140,144)"/><rect x="175" y="941.1" width="17" height="8.2" fill="rgb(156,153,158)"/><rect x="194" y="941.1" width="11" height="8.2" fill="rgb(129,129,129)"/><rect x="205" y="941.1" width="43" height="8.2" fill="rgb(135,132,137)"/><rect x="248" y="941.1" width="11" height="8.2" fill="rgb(181,178,182)"/><rect x="261" y="941.1" width="22" height="8.2" fill="rgb(186,183,187)"/><rect x="283" y="941.1" width="17" height="8.2" fill="rgb(170,170,170)"/><rect x="302" y="941.1" width="21" height="8.2" fill="rgb(174,171,175)"/><rect x="323" y="941.1" width="16" height="8.2" fill="rgb(188,188,188)"/><rect x="341" y="941.1" width="28" height="8.2" fill="rgb(147,150,148)"/><rect x="371" y="941.1" width="6" height="8.2" fill="rgb(181,178,183)"/><rect x="377" y="941.1" width="49" height="8.2" fill="rgb(130,133,131)"/><rect x="426" y="941.1" width="4" height="8.2" fill="rgb(170,167,171)"/><rect x="432" y="941.1" width="24" height="8.2" fill="rgb(172,172,172)"/><rect x="456" y="941.1" width="40" height="8.2" fill="rgb(151,154,152)"/><rect x="496" y="941.1" width="7" height="8.2" fill="rgb(180,183,181)"/><rect x="-32" y="953.6" width="14" height="8.2" fill="rgb(159,162,160)"/><rect x="-18" y="953.6" width="18" height="8.2" fill="rgb(145,148,146)"/><rect x="2" y="953.6" width="65" height="8.2" fill="rgb(139,142,140)"/><rect x="69" y="953.6" width="25" height="8.2" fill="rgb(157,157,157)"/><rect x="94" y="953.6" width="15" height="8.2" fill="rgb(189,186,190)"/><rect x="109" y="953.6" width="11" height="8.2" fill="rgb(148,145,150)"/><rect x="122" y="953.6" width="18" height="8.2" fill="rgb(127,130,128)"/><rect x="140" y="953.6" width="7" height="8.2" fill="rgb(154,157,155)"/><rect x="147" y="953.6" width="24" height="8.2" fill="rgb(133,130,134)"/><rect x="173" y="953.6" width="12" height="8.2" fill="rgb(154,151,155)"/><rect x="185" y="953.6" width="25" height="8.2" fill="rgb(129,132,130)"/><rect x="212" y="953.6" width="40" height="8.2" fill="rgb(161,164,162)"/><rect x="252" y="953.6" width="4" height="8.2" fill="rgb(163,166,164)"/><rect x="258" y="953.6" width="72" height="8.2" fill="rgb(183,186,184)"/><rect x="332" y="953.6" width="28" height="8.2" fill="rgb(158,155,159)"/><rect x="360" y="953.6" width="6" height="8.2" fill="rgb(167,164,168)"/><rect x="368" y="953.6" width="29" height="8.2" fill="rgb(144,147,145)"/><rect x="397" y="953.6" width="5" height="8.2" fill="rgb(181,184,182)"/><rect x="404" y="953.6" width="71" height="8.2" fill="rgb(149,146,150)"/><rect x="-46" y="966.0" width="26" height="8.2" fill="rgb(180,183,181)"/><rect x="-20" y="966.0" width="25" height="8.2" fill="rgb(173,173,173)"/><rect x="7" y="966.0" width="49" height="8.2" fill="rgb(175,172,176)"/><rect x="58" y="966.0" width="65" height="8.2" fill="rgb(162,159,163)"/><rect x="123" y="966.0" width="5" height="8.2" fill="rgb(183,186,184)"/><rect x="130" y="966.0" width="13" height="8.2" fill="rgb(134,137,135)"/><rect x="143" y="966.0" width="30" height="8.2" fill="rgb(131,128,132)"/><rect x="175" y="966.0" width="29" height="8.2" fill="rgb(166,163,167)"/><rect x="204" y="966.0" width="3" height="8.2" fill="rgb(185,188,186)"/><rect x="207" y="966.0" width="25" height="8.2" fill="rgb(165,162,167)"/><rect x="234" y="966.0" width="27" height="8.2" fill="rgb(149,146,150)"/><rect x="261" y="966.0" width="10" height="8.2" fill="rgb(171,174,172)"/><rect x="273" y="966.0" width="8" height="8.2" fill="rgb(184,187,185)"/><rect x="281" y="966.0" width="55" height="8.2" fill="rgb(165,162,167)"/><rect x="338" y="966.0" width="23" height="8.2" fill="rgb(167,164,168)"/><rect x="361" y="966.0" width="42" height="8.2" fill="rgb(159,156,160)"/><rect x="405" y="966.0" width="12" height="8.2" fill="rgb(146,149,147)"/><rect x="417" y="966.0" width="54" height="8.2" fill="rgb(147,144,148)"/><rect x="471" y="966.0" width="6" height="8.2" fill="rgb(162,159,164)"/><rect x="-47" y="978.5" width="19" height="8.2" fill="rgb(173,170,175)"/><rect x="-28" y="978.5" width="19" height="8.2" fill="rgb(141,138,143)"/><rect x="-7" y="978.5" width="16" height="8.2" fill="rgb(143,146,144)"/><rect x="9" y="978.5" width="26" height="8.2" fill="rgb(169,166,171)"/><rect x="35" y="978.5" width="11" height="8.2" fill="rgb(138,141,139)"/><rect x="48" y="978.5" width="23" height="8.2" fill="rgb(131,128,133)"/><rect x="71" y="978.5" width="8" height="8.2" fill="rgb(129,132,130)"/><rect x="81" y="978.5" width="4" height="8.2" fill="rgb(142,139,143)"/><rect x="85" y="978.5" width="45" height="8.2" fill="rgb(165,162,166)"/><rect x="132" y="978.5" width="4" height="8.2" fill="rgb(143,140,144)"/><rect x="136" y="978.5" width="24" height="8.2" fill="rgb(151,148,152)"/><rect x="162" y="978.5" width="16" height="8.2" fill="rgb(173,170,174)"/><rect x="178" y="978.5" width="7" height="8.2" fill="rgb(139,136,141)"/><rect x="185" y="978.5" width="6" height="8.2" fill="rgb(183,183,183)"/><rect x="193" y="978.5" width="30" height="8.2" fill="rgb(165,168,166)"/><rect x="225" y="978.5" width="29" height="8.2" fill="rgb(144,144,144)"/><rect x="254" y="978.5" width="13" height="8.2" fill="rgb(183,180,185)"/><rect x="267" y="978.5" width="7" height="8.2" fill="rgb(131,128,132)"/><rect x="276" y="978.5" width="7" height="8.2" fill="rgb(151,154,152)"/><rect x="283" y="978.5" width="57" height="8.2" fill="rgb(176,173,177)"/><rect x="342" y="978.5" width="9" height="8.2" fill="rgb(127,130,128)"/><rect x="351" y="978.5" width="40" height="8.2" fill="rgb(139,142,140)"/><rect x="393" y="978.5" width="61" height="8.2" fill="rgb(152,149,153)"/><rect x="-26" y="990.9" width="46" height="8.2" fill="rgb(163,166,164)"/><rect x="20" y="990.9" width="4" height="8.2" fill="rgb(147,150,148)"/><rect x="26" y="990.9" width="56" height="8.2" fill="rgb(173,173,173)"/><rect x="82" y="990.9" width="11" height="8.2" fill="rgb(176,173,178)"/><rect x="95" y="990.9" width="45" height="8.2" fill="rgb(174,177,175)"/><rect x="140" y="990.9" width="24" height="8.2" fill="rgb(173,173,173)"/><rect x="166" y="990.9" width="27" height="8.2" fill="rgb(158,161,159)"/><rect x="193" y="990.9" width="36" height="8.2" fill="rgb(190,187,191)"/><rect x="231" y="990.9" width="4" height="8.2" fill="rgb(163,163,163)"/><rect x="235" y="990.9" width="32" height="8.2" fill="rgb(137,134,138)"/><rect x="269" y="990.9" width="44" height="8.2" fill="rgb(142,142,142)"/><rect x="313" y="990.9" width="7" height="8.2" fill="rgb(176,173,178)"/><rect x="322" y="990.9" width="7" height="8.2" fill="rgb(128,131,129)"/><rect x="329" y="990.9" width="22" height="8.2" fill="rgb(158,161,159)"/><rect x="353" y="990.9" width="20" height="8.2" fill="rgb(185,188,186)"/><rect x="373" y="990.9" width="43" height="8.2" fill="rgb(154,151,155)"/><rect x="418" y="990.9" width="31" height="8.2" fill="rgb(173,176,174)"/><rect x="449" y="990.9" width="6" height="8.2" fill="rgb(161,158,163)"/><rect x="-21" y="1003.4" width="60" height="8.2" fill="rgb(183,183,183)"/><rect x="39" y="1003.4" width="13" height="8.2" fill="rgb(144,141,145)"/><rect x="54" y="1003.4" width="17" height="8.2" fill="rgb(148,145,150)"/><rect x="71" y="1003.4" width="16" height="8.2" fill="rgb(137,134,138)"/><rect x="87" y="1003.4" width="17" height="8.2" fill="rgb(174,171,176)"/><rect x="106" y="1003.4" width="15" height="8.2" fill="rgb(129,132,130)"/><rect x="121" y="1003.4" width="10" height="8.2" fill="rgb(164,164,164)"/><rect x="131" y="1003.4" width="7" height="8.2" fill="rgb(154,154,154)"/><rect x="140" y="1003.4" width="7" height="8.2" fill="rgb(144,141,146)"/><rect x="147" y="1003.4" width="63" height="8.2" fill="rgb(147,144,148)"/><rect x="212" y="1003.4" width="18" height="8.2" fill="rgb(148,151,149)"/><rect x="230" y="1003.4" width="37" height="8.2" fill="rgb(148,148,148)"/><rect x="269" y="1003.4" width="23" height="8.2" fill="rgb(184,184,184)"/><rect x="292" y="1003.4" width="46" height="8.2" fill="rgb(138,141,139)"/><rect x="340" y="1003.4" width="12" height="8.2" fill="rgb(182,179,183)"/><rect x="352" y="1003.4" width="9" height="8.2" fill="rgb(146,143,148)"/><rect x="361" y="1003.4" width="17" height="8.2" fill="rgb(149,146,151)"/><rect x="380" y="1003.4" width="14" height="8.2" fill="rgb(151,148,152)"/><rect x="394" y="1003.4" width="45" height="8.2" fill="rgb(164,167,165)"/><rect x="441" y="1003.4" width="41" height="8.2" fill="rgb(129,132,130)"/><rect x="482" y="1003.4" width="15" height="8.2" fill="rgb(185,182,186)"/><rect x="-22" y="1015.8" width="9" height="8.2" fill="rgb(181,184,182)"/><rect x="-13" y="1015.8" width="8" height="8.2" fill="rgb(189,186,190)"/><rect x="-5" y="1015.8" width="13" height="8.2" fill="rgb(171,168,173)"/><rect x="10" y="1015.8" width="4" height="8.2" fill="rgb(138,135,139)"/><rect x="14" y="1015.8" width="31" height="8.2" fill="rgb(134,137,135)"/><rect x="47" y="1015.8" width="50" height="8.2" fill="rgb(174,177,175)"/><rect x="99" y="1015.8" width="9" height="8.2" fill="rgb(152,149,153)"/><rect x="108" y="1015.8" width="21" height="8.2" fill="rgb(189,186,190)"/><rect x="129" y="1015.8" width="27" height="8.2" fill="rgb(173,173,173)"/><rect x="158" y="1015.8" width="49" height="8.2" fill="rgb(163,166,164)"/><rect x="209" y="1015.8" width="40" height="8.2" fill="rgb(128,131,129)"/><rect x="251" y="1015.8" width="40" height="8.2" fill="rgb(158,155,159)"/><rect x="291" y="1015.8" width="20" height="8.2" fill="rgb(137,134,138)"/><rect x="313" y="1015.8" width="29" height="8.2" fill="rgb(187,184,188)"/><rect x="344" y="1015.8" width="32" height="8.2" fill="rgb(135,135,135)"/><rect x="378" y="1015.8" width="4" height="8.2" fill="rgb(145,142,146)"/><rect x="382" y="1015.8" width="5" height="8.2" fill="rgb(160,163,161)"/><rect x="387" y="1015.8" width="27" height="8.2" fill="rgb(171,168,172)"/><rect x="416" y="1015.8" width="62" height="8.2" fill="rgb(163,160,164)"/><rect x="-30" y="1028.3" width="10" height="8.2" fill="rgb(180,183,181)"/><rect x="-20" y="1028.3" width="22" height="8.2" fill="rgb(174,171,176)"/><rect x="4" y="1028.3" width="4" height="8.2" fill="rgb(146,143,147)"/><rect x="8" y="1028.3" width="41" height="8.2" fill="rgb(132,129,134)"/><rect x="51" y="1028.3" width="40" height="8.2" fill="rgb(151,154,152)"/><rect x="93" y="1028.3" width="4" height="8.2" fill="rgb(151,148,152)"/><rect x="97" y="1028.3" width="47" height="8.2" fill="rgb(133,130,134)"/><rect x="146" y="1028.3" width="39" height="8.2" fill="rgb(152,149,153)"/><rect x="185" y="1028.3" width="18" height="8.2" fill="rgb(157,154,158)"/><rect x="205" y="1028.3" width="55" height="8.2" fill="rgb(157,154,158)"/><rect x="260" y="1028.3" width="18" height="8.2" fill="rgb(162,162,162)"/><rect x="280" y="1028.3" width="28" height="8.2" fill="rgb(176,176,176)"/><rect x="308" y="1028.3" width="24" height="8.2" fill="rgb(184,184,184)"/><rect x="334" y="1028.3" width="37" height="8.2" fill="rgb(140,143,141)"/><rect x="373" y="1028.3" width="48" height="8.2" fill="rgb(170,167,171)"/><rect x="421" y="1028.3" width="12" height="8.2" fill="rgb(150,153,151)"/><rect x="435" y="1028.3" width="40" height="8.2" fill="rgb(130,133,131)"/><rect x="-49" y="1040.7" width="30" height="8.2" fill="rgb(156,153,157)"/><rect x="-17" y="1040.7" width="47" height="8.2" fill="rgb(169,169,169)"/><rect x="30" y="1040.7" width="16" height="8.2" fill="rgb(166,163,167)"/><rect x="48" y="1040.7" width="4" height="8.2" fill="rgb(161,158,162)"/><rect x="52" y="1040.7" width="36" height="8.2" fill="rgb(169,169,169)"/><rect x="88" y="1040.7" width="8" height="8.2" fill="rgb(162,159,163)"/><rect x="98" y="1040.7" width="19" height="8.2" fill="rgb(171,168,172)"/><rect x="117" y="1040.7" width="37" height="8.2" fill="rgb(183,183,183)"/><rect x="154" y="1040.7" width="9" height="8.2" fill="rgb(153,150,154)"/><rect x="165" y="1040.7" width="12" height="8.2" fill="rgb(170,167,171)"/><rect x="177" y="1040.7" width="8" height="8.2" fill="rgb(173,170,174)"/><rect x="185" y="1040.7" width="12" height="8.2" fill="rgb(135,132,136)"/><rect x="199" y="1040.7" width="43" height="8.2" fill="rgb(178,175,179)"/><rect x="242" y="1040.7" width="19" height="8.2" fill="rgb(144,144,144)"/><rect x="263" y="1040.7" width="18" height="8.2" fill="rgb(137,134,139)"/><rect x="281" y="1040.7" width="22" height="8.2" fill="rgb(184,187,185)"/><rect x="303" y="1040.7" width="10" height="8.2" fill="rgb(148,151,149)"/><rect x="315" y="1040.7" width="27" height="8.2" fill="rgb(146,143,147)"/><rect x="342" y="1040.7" width="14" height="8.2" fill="rgb(137,140,138)"/><rect x="358" y="1040.7" width="9" height="8.2" fill="rgb(148,148,148)"/><rect x="367" y="1040.7" width="17" height="8.2" fill="rgb(151,151,151)"/><rect x="384" y="1040.7" width="44" height="8.2" fill="rgb(135,135,135)"/><rect x="430" y="1040.7" width="16" height="8.2" fill="rgb(136,133,137)"/><rect x="446" y="1040.7" width="21" height="8.2" fill="rgb(153,150,154)"/><rect x="-32" y="1053.2" width="32" height="8.2" fill="rgb(170,167,172)"/><rect x="0" y="1053.2" width="29" height="8.2" fill="rgb(145,145,145)"/><rect x="31" y="1053.2" width="11" height="8.2" fill="rgb(168,168,168)"/><rect x="42" y="1053.2" width="21" height="8.2" fill="rgb(172,175,173)"/><rect x="63" y="1053.2" width="14" height="8.2" fill="rgb(173,176,174)"/><rect x="79" y="1053.2" width="37" height="8.2" fill="rgb(169,172,170)"/><rect x="118" y="1053.2" width="37" height="8.2" fill="rgb(140,143,141)"/><rect x="155" y="1053.2" width="9" height="8.2" fill="rgb(148,151,149)"/><rect x="164" y="1053.2" width="5" height="8.2" fill="rgb(149,149,149)"/><rect x="171" y="1053.2" width="44" height="8.2" fill="rgb(161,164,162)"/><rect x="217" y="1053.2" width="5" height="8.2" fill="rgb(163,166,164)"/><rect x="222" y="1053.2" width="23" height="8.2" fill="rgb(150,147,151)"/><rect x="247" y="1053.2" width="24" height="8.2" fill="rgb(142,145,143)"/><rect x="271" y="1053.2" width="38" height="8.2" fill="rgb(144,144,144)"/><rect x="311" y="1053.2" width="6" height="8.2" fill="rgb(136,136,136)"/><rect x="317" y="1053.2" width="4" height="8.2" fill="rgb(180,177,181)"/><rect x="321" y="1053.2" width="23" height="8.2" fill="rgb(169,166,170)"/><rect x="346" y="1053.2" width="15" height="8.2" fill="rgb(133,130,134)"/><rect x="361" y="1053.2" width="1" height="8.2" fill="rgb(178,175,179)"/><rect x="362" y="1053.2" width="14" height="8.2" fill="rgb(154,154,154)"/><rect x="378" y="1053.2" width="26" height="8.2" fill="rgb(143,143,143)"/><rect x="404" y="1053.2" width="43" height="8.2" fill="rgb(179,182,180)"/><rect x="-7" y="1065.6" width="58" height="8.2" fill="rgb(170,173,171)"/><rect x="51" y="1065.6" width="9" height="8.2" fill="rgb(151,148,153)"/><rect x="62" y="1065.6" width="46" height="8.2" fill="rgb(183,180,185)"/><rect x="108" y="1065.6" width="24" height="8.2" fill="rgb(133,133,133)"/><rect x="134" y="1065.6" width="30" height="8.2" fill="rgb(162,159,163)"/><rect x="164" y="1065.6" width="7" height="8.2" fill="rgb(176,173,178)"/><rect x="171" y="1065.6" width="15" height="8.2" fill="rgb(131,134,132)"/><rect x="188" y="1065.6" width="33" height="8.2" fill="rgb(181,181,181)"/><rect x="221" y="1065.6" width="15" height="8.2" fill="rgb(154,154,154)"/><rect x="236" y="1065.6" width="16" height="8.2" fill="rgb(139,136,141)"/><rect x="254" y="1065.6" width="12" height="8.2" fill="rgb(160,157,162)"/><rect x="266" y="1065.6" width="23" height="8.2" fill="rgb(168,171,169)"/><rect x="289" y="1065.6" width="21" height="8.2" fill="rgb(173,176,174)"/><rect x="312" y="1065.6" width="53" height="8.2" fill="rgb(190,187,191)"/><rect x="367" y="1065.6" width="28" height="8.2" fill="rgb(177,177,177)"/><rect x="395" y="1065.6" width="18" height="8.2" fill="rgb(135,132,137)"/><rect x="415" y="1065.6" width="42" height="8.2" fill="rgb(164,161,166)"/><rect x="-5" y="1078.1" width="59" height="8.2" fill="rgb(180,183,181)"/><rect x="56" y="1078.1" width="7" height="8.2" fill="rgb(169,172,170)"/><rect x="63" y="1078.1" width="49" height="8.2" fill="rgb(175,172,176)"/><rect x="112" y="1078.1" width="8" height="8.2" fill="rgb(158,155,160)"/><rect x="122" y="1078.1" width="41" height="8.2" fill="rgb(136,136,136)"/><rect x="163" y="1078.1" width="16" height="8.2" fill="rgb(180,177,182)"/><rect x="179" y="1078.1" width="6" height="8.2" fill="rgb(186,183,187)"/><rect x="187" y="1078.1" width="14" height="8.2" fill="rgb(137,140,138)"/><rect x="201" y="1078.1" width="23" height="8.2" fill="rgb(126,129,127)"/><rect x="226" y="1078.1" width="37" height="8.2" fill="rgb(144,141,146)"/><rect x="263" y="1078.1" width="25" height="8.2" fill="rgb(148,148,148)"/><rect x="290" y="1078.1" width="39" height="8.2" fill="rgb(150,153,151)"/><rect x="329" y="1078.1" width="5" height="8.2" fill="rgb(184,184,184)"/><rect x="336" y="1078.1" width="71" height="8.2" fill="rgb(149,146,150)"/><rect x="409" y="1078.1" width="31" height="8.2" fill="rgb(146,143,147)"/><rect x="440" y="1078.1" width="7" height="8.2" fill="rgb(138,141,139)"/><rect x="447" y="1078.1" width="5" height="8.2" fill="rgb(129,132,130)"/><rect x="-33" y="1090.5" width="63" height="8.2" fill="rgb(160,157,161)"/><rect x="30" y="1090.5" width="6" height="8.2" fill="rgb(162,159,163)"/><rect x="38" y="1090.5" width="27" height="8.2" fill="rgb(189,186,190)"/><rect x="65" y="1090.5" width="38" height="8.2" fill="rgb(140,140,140)"/><rect x="105" y="1090.5" width="73" height="8.2" fill="rgb(176,173,177)"/><rect x="180" y="1090.5" width="28" height="8.2" fill="rgb(151,154,152)"/><rect x="210" y="1090.5" width="48" height="8.2" fill="rgb(143,146,144)"/><rect x="260" y="1090.5" width="16" height="8.2" fill="rgb(171,174,172)"/><rect x="276" y="1090.5" width="40" height="8.2" fill="rgb(176,179,177)"/><rect x="318" y="1090.5" width="29" height="8.2" fill="rgb(174,174,174)"/><rect x="347" y="1090.5" width="34" height="8.2" fill="rgb(139,142,140)"/><rect x="381" y="1090.5" width="4" height="8.2" fill="rgb(129,132,130)"/><rect x="387" y="1090.5" width="55" height="8.2" fill="rgb(129,132,130)"/><rect x="444" y="1090.5" width="4" height="8.2" fill="rgb(190,187,191)"/><rect x="448" y="1090.5" width="5" height="8.2" fill="rgb(166,163,167)"/><rect x="453" y="1090.5" width="23" height="8.2" fill="rgb(177,180,178)"/><rect x="-30" y="1103.0" width="17" height="8.2" fill="rgb(160,163,161)"/><rect x="-13" y="1103.0" width="25" height="8.2" fill="rgb(140,137,141)"/><rect x="14" y="1103.0" width="41" height="8.2" fill="rgb(157,154,159)"/><rect x="57" y="1103.0" width="40" height="8.2" fill="rgb(188,185,190)"/><rect x="99" y="1103.0" width="46" height="8.2" fill="rgb(183,180,184)"/><rect x="145" y="1103.0" width="8" height="8.2" fill="rgb(173,173,173)"/><rect x="155" y="1103.0" width="11" height="8.2" fill="rgb(190,187,191)"/><rect x="166" y="1103.0" width="12" height="8.2" fill="rgb(136,133,138)"/><rect x="178" y="1103.0" width="48" height="8.2" fill="rgb(138,138,138)"/><rect x="228" y="1103.0" width="41" height="8.2" fill="rgb(181,178,182)"/><rect x="269" y="1103.0" width="5" height="8.2" fill="rgb(170,173,171)"/><rect x="276" y="1103.0" width="33" height="8.2" fill="rgb(146,143,147)"/><rect x="309" y="1103.0" width="4" height="8.2" fill="rgb(161,164,162)"/><rect x="315" y="1103.0" width="16" height="8.2" fill="rgb(132,129,133)"/><rect x="331" y="1103.0" width="21" height="8.2" fill="rgb(150,153,151)"/><rect x="354" y="1103.0" width="18" height="8.2" fill="rgb(166,169,167)"/><rect x="372" y="1103.0" width="51" height="8.2" fill="rgb(172,169,174)"/><rect x="425" y="1103.0" width="13" height="8.2" fill="rgb(157,154,158)"/><rect x="438" y="1103.0" width="2" height="8.2" fill="rgb(171,171,171)"/><rect x="440" y="1103.0" width="25" height="8.2" fill="rgb(135,132,137)"/><rect x="-21" y="1115.4" width="24" height="8.2" fill="rgb(185,188,186)"/><rect x="3" y="1115.4" width="11" height="8.2" fill="rgb(161,158,163)"/><rect x="16" y="1115.4" width="5" height="8.2" fill="rgb(176,176,176)"/><rect x="21" y="1115.4" width="21" height="8.2" fill="rgb(184,181,186)"/><rect x="42" y="1115.4" width="20" height="8.2" fill="rgb(140,140,140)"/><rect x="64" y="1115.4" width="42" height="8.2" fill="rgb(162,165,163)"/><rect x="106" y="1115.4" width="3" height="8.2" fill="rgb(176,173,178)"/><rect x="111" y="1115.4" width="34" height="8.2" fill="rgb(143,146,144)"/><rect x="145" y="1115.4" width="6" height="8.2" fill="rgb(167,164,168)"/><rect x="153" y="1115.4" width="30" height="8.2" fill="rgb(130,127,131)"/><rect x="185" y="1115.4" width="23" height="8.2" fill="rgb(129,132,130)"/><rect x="208" y="1115.4" width="17" height="8.2" fill="rgb(151,148,152)"/><rect x="227" y="1115.4" width="19" height="8.2" fill="rgb(177,174,178)"/><rect x="246" y="1115.4" width="6" height="8.2" fill="rgb(139,136,141)"/><rect x="252" y="1115.4" width="31" height="8.2" fill="rgb(180,177,181)"/><rect x="285" y="1115.4" width="7" height="8.2" fill="rgb(163,160,165)"/><rect x="292" y="1115.4" width="20" height="8.2" fill="rgb(176,179,177)"/><rect x="312" y="1115.4" width="5" height="8.2" fill="rgb(166,166,166)"/><rect x="319" y="1115.4" width="57" height="8.2" fill="rgb(130,127,132)"/><rect x="378" y="1115.4" width="60" height="8.2" fill="rgb(157,154,158)"/><rect x="440" y="1115.4" width="57" height="8.2" fill="rgb(166,163,167)"/><rect x="497" y="1115.4" width="15" height="8.2" fill="rgb(134,131,135)"/><rect x="-45" y="1127.9" width="50" height="8.2" fill="rgb(141,138,142)"/><rect x="5" y="1127.9" width="20" height="8.2" fill="rgb(188,185,190)"/><rect x="27" y="1127.9" width="49" height="8.2" fill="rgb(184,181,185)"/><rect x="78" y="1127.9" width="13" height="8.2" fill="rgb(144,141,146)"/><rect x="91" y="1127.9" width="45" height="8.2" fill="rgb(132,135,133)"/><rect x="138" y="1127.9" width="19" height="8.2" fill="rgb(142,145,143)"/><rect x="157" y="1127.9" width="16" height="8.2" fill="rgb(162,159,164)"/><rect x="175" y="1127.9" width="14" height="8.2" fill="rgb(161,164,162)"/><rect x="189" y="1127.9" width="5" height="8.2" fill="rgb(127,130,128)"/><rect x="194" y="1127.9" width="29" height="8.2" fill="rgb(146,143,147)"/><rect x="225" y="1127.9" width="29" height="8.2" fill="rgb(161,164,162)"/><rect x="254" y="1127.9" width="11" height="8.2" fill="rgb(134,137,135)"/><rect x="267" y="1127.9" width="10" height="8.2" fill="rgb(128,125,130)"/><rect x="277" y="1127.9" width="52" height="8.2" fill="rgb(188,185,190)"/><rect x="331" y="1127.9" width="48" height="8.2" fill="rgb(173,176,174)"/><rect x="379" y="1127.9" width="11" height="8.2" fill="rgb(131,134,132)"/><rect x="392" y="1127.9" width="4" height="8.2" fill="rgb(155,155,155)"/><rect x="396" y="1127.9" width="33" height="8.2" fill="rgb(164,167,165)"/><rect x="431" y="1127.9" width="22" height="8.2" fill="rgb(184,181,186)"/><rect x="453" y="1127.9" width="13" height="8.2" fill="rgb(136,133,137)"/><rect x="-36" y="1140.3" width="19" height="8.2" fill="rgb(163,166,164)"/><rect x="-17" y="1140.3" width="22" height="8.2" fill="rgb(173,170,175)"/><rect x="7" y="1140.3" width="43" height="8.2" fill="rgb(168,165,169)"/><rect x="52" y="1140.3" width="34" height="8.2" fill="rgb(138,141,139)"/><rect x="88" y="1140.3" width="42" height="8.2" fill="rgb(149,146,151)"/><rect x="130" y="1140.3" width="30" height="8.2" fill="rgb(179,179,179)"/><rect x="162" y="1140.3" width="4" height="8.2" fill="rgb(148,148,148)"/><rect x="166" y="1140.3" width="61" height="8.2" fill="rgb(178,178,178)"/><rect x="229" y="1140.3" width="30" height="8.2" fill="rgb(176,179,177)"/><rect x="261" y="1140.3" width="8" height="8.2" fill="rgb(181,178,182)"/><rect x="269" y="1140.3" width="29" height="8.2" fill="rgb(175,178,176)"/><rect x="300" y="1140.3" width="18" height="8.2" fill="rgb(173,170,174)"/><rect x="318" y="1140.3" width="23" height="8.2" fill="rgb(173,170,175)"/><rect x="343" y="1140.3" width="5" height="8.2" fill="rgb(163,160,164)"/><rect x="348" y="1140.3" width="14" height="8.2" fill="rgb(186,183,188)"/><rect x="362" y="1140.3" width="9" height="8.2" fill="rgb(173,176,174)"/><rect x="373" y="1140.3" width="68" height="8.2" fill="rgb(143,140,144)"/><rect x="443" y="1140.3" width="17" height="8.2" fill="rgb(136,133,137)"/><rect x="460" y="1140.3" width="14" height="8.2" fill="rgb(175,172,176)"/></g></g>
<polyline points="0,224 430,231 434,237" stroke="#141414" stroke-width="4" fill="none"/>
<polyline points="0,1132 107,1137" stroke="#141414" stroke-width="4" fill="none"/>
<polygon points="0,1136 90,1139 129,2000 0,2000" fill="#f9e7c1"/>
<polygon points="431,235 107,1137 88,1140 129,2000 430,2000 686,1739 673,901 698,899 497,387 490,240" fill="#7b745f"/>
<polygon points="433,236 445,240 450,337 400,337" fill="#878264"/>
<polygon points="494,394 698,899 670,901 501,427" fill="#8a8766"/>
<polyline points="501,427 669,898" stroke="#3c3a2c" stroke-width="2" fill="none"/>
<polyline points="433,250 447,336" stroke="#4a4630" stroke-width="2" fill="none"/>
<polyline points="431,235 107,1137" stroke="#141414" stroke-width="4.5" fill="none"/>
<polyline points="89,1139 129,2000" stroke="#2a2418" stroke-width="3" fill="none"/>
<polyline points="433,236 440,250" stroke="#141414" stroke-width="5" fill="none"/>
<polyline points="497,387 698,899 670,901" stroke="#141414" stroke-width="5" fill="none" stroke-linejoin="miter"/>
<polyline points="673,901 686,1739 430,2002" stroke="#141414" stroke-width="4" fill="none"/>
<polygon points="437.5,126 445,337 461,850 486,1700 488,1850 540,1850 536,1700 512,850 497.5,337 492,126" fill="url(#pipeg)"/>
<polyline points="437.5,126 445,337 461,850 486,1700 488,1850" stroke="#141414" stroke-width="3.2" fill="none"/>
<polyline points="492,126 497.5,337 512,850 536,1700 540,1850" stroke="#141414" stroke-width="3.2" fill="none"/>
<line x1="446.1" y1="373" x2="498.5" y2="373" stroke="#141414" stroke-width="3.5"/>
<line x1="453.8" y1="618" x2="505.4" y2="618" stroke="#141414" stroke-width="3.5"/>
<line x1="461.2" y1="857" x2="512.2" y2="857" stroke="#141414" stroke-width="3.5"/>
<line x1="468.1" y1="1090" x2="518.8" y2="1090" stroke="#141414" stroke-width="3.5"/>
<line x1="474.7" y1="1316" x2="525.2" y2="1316" stroke="#141414" stroke-width="3.5"/>
<line x1="481.2" y1="1537" x2="531.4" y2="1537" stroke="#141414" stroke-width="3.5"/>
<line x1="453.4" y1="605" x2="505.1" y2="605" stroke="#6a6e74" stroke-width="2.5"/>
<line x1="460.8" y1="843" x2="511.8" y2="843" stroke="#6a6e74" stroke-width="2.5"/>
<line x1="467.6" y1="1075" x2="518.4" y2="1075" stroke="#6a6e74" stroke-width="2.5"/>
<line x1="474.2" y1="1300" x2="524.7" y2="1300" stroke="#6a6e74" stroke-width="2.5"/>
<line x1="480.8" y1="1524" x2="531.0" y2="1524" stroke="#6a6e74" stroke-width="2.5"/>
<line x1="445.4" y1="351" x2="497.9" y2="351" stroke="#555" stroke-width="2"/>
<line x1="445.7" y1="361" x2="498.2" y2="361" stroke="#8a8e94" stroke-width="2"/>
<line x1="444" y1="349" x2="444" y2="374" stroke="#141414" stroke-width="3"/>
<rect x="437.5" y="108" width="54" height="18" fill="#d8dce2" stroke="#141414" stroke-width="3"/>
<line x1="437" y1="121.5" x2="492" y2="121.5" stroke="#141414" stroke-width="3"/>
<path d="M417,72 L510,73 Q513,77.5 510,83 L417,83 Z" fill="#141414"/>
<rect x="437" y="82" width="53" height="27" fill="#141414"/>
<rect x="447" y="83" width="19" height="19" fill="#e8e8ec"/>
<rect x="469" y="83" width="4" height="20" fill="#8a8a8e"/>
<rect x="400" y="337" width="99" height="12.5" fill="#dcdfe1" stroke="#141414" stroke-width="3"/>
<path d="M417,901 L430,897 L463.4,897 L464.0,919.5 L417,919.5 Z" fill="#141414"/>
<rect x="440" y="900.5" width="21" height="5.5" fill="#c9cdd0"/>
<rect x="421" y="909.5" width="36" height="3.2" fill="#eeeeea"/>
<line x1="462.7" y1="908" x2="513.6" y2="908" stroke="#141414" stroke-width="3"/>
<line x1="463.0" y1="918" x2="513.9" y2="918" stroke="#141414" stroke-width="3"/>
<line x1="462.9" y1="913" x2="513.8" y2="913" stroke="#9da2a8" stroke-width="2"/>
<path d="M437,1474 L447,1465 L455,1461 L480.0,1461 L480.8,1489.5 L440,1489.5 L437,1486 Z" fill="#141414"/>
<rect x="460" y="1464.5" width="18" height="5" fill="#cdd1d4"/>
<rect x="440" y="1480" width="40" height="3.2" fill="#efefea"/>
<line x1="479.5" y1="1478" x2="529.7" y2="1478" stroke="#141414" stroke-width="3"/>
<line x1="479.8" y1="1488" x2="530.0" y2="1488" stroke="#141414" stroke-width="3"/>
<line x1="479.6" y1="1484" x2="529.9" y2="1484" stroke="#8d9298" stroke-width="2"/>
<polygon points="465,1681 477,1681 488,1692 488,1745 470,1725" fill="#d5dbe2" stroke="#141414" stroke-width="3" stroke-linejoin="round"/>
<polygon points="441,1700 451,1701 502,1757 441,1760" fill="#d5dbe3" stroke="#141414" stroke-width="3.5" stroke-linejoin="round"/>
<rect x="500" y="1741" width="37" height="13.5" fill="#d2d6dd"/>
<line x1="500" y1="1741.5" x2="536" y2="1741.5" stroke="#141414" stroke-width="3"/>
<line x1="500" y1="1754.5" x2="536" y2="1754.5" stroke="#141414" stroke-width="3"/>
<polygon points="535,1740 556,1743.5 543,1760 535,1760" fill="#2a2620"/>
<rect x="440" y="1759" width="99" height="6" fill="#141414"/>
<rect x="489" y="1764" width="50" height="27" fill="#d6dae3" stroke="#141414" stroke-width="3"/>
<line x1="500" y1="1778" x2="525" y2="1778" stroke="#141414" stroke-width="3"/>
<line x1="492" y1="1773" x2="536" y2="1773" stroke="#f2f2f4" stroke-width="2"/>
<polygon points="450,1766 488,1766 488,1781 437,1781" fill="#f2e2bc" stroke="#141414" stroke-width="2.5"/>
<rect x="480" y="1790" width="60" height="58" fill="#d4dbe4" stroke="#141414" stroke-width="3"/>
<rect x="493" y="1848" width="47" height="24" fill="#5a6266" stroke="#141414" stroke-width="3"/>
<line x1="496" y1="1858" x2="537" y2="1858" stroke="#c8ccd0" stroke-width="2"/>
<line x1="496" y1="1866" x2="537" y2="1866" stroke="#2c3436" stroke-width="2"/>
<path d="M439,1784 L480,1786 L480,1834 L491,1836 L491,1866 C488,1890 462,1914 437,1920 C424,1917 417,1896 415,1870 L414,1840 C415,1810 424,1792 439,1784 Z" fill="#8e8168"/>
<path d="M429,1788 L480,1787 L480,1831 L416,1828 C417,1810 421,1798 429,1788 Z" fill="#d6dee8" stroke="#141414" stroke-width="3"/>
<line x1="465" y1="1790" x2="465" y2="1830" stroke="#141414" stroke-width="3.5"/>
<line x1="478.5" y1="1790" x2="478.5" y2="1836" stroke="#141414" stroke-width="3"/>
<path d="M438,1833 L492,1836 L492,1866 C489,1885 472,1900 452,1910 L424,1906 C419,1895 418,1885 421,1878 Z" fill="url(#creamg)"/>
<polygon points="416,1831 437,1833 420,1873" fill="#dfe4e6"/>
<path d="M438,1834 L421,1878" stroke="#141414" stroke-width="3" fill="none"/>
<path d="M439,1784 C424,1792 415,1810 414,1840 L415,1870 C417,1896 424,1917 437,1920 C462,1914 488,1890 491,1866 L491,1836" stroke="#141414" stroke-width="3.5" fill="none"/>
<polygon points="556.6,104.2 594.8,84 594.8,125.30000000000001" fill="none" stroke="#141414" stroke-width="4.2" stroke-linejoin="miter" stroke-miterlimit="10"/>
<line x1="595.8" y1="105.2" x2="986" y2="148" stroke="#141414" stroke-width="3.6" stroke-linecap="round"/>
<polygon points="556.6,221 595,201 595,242" fill="none" stroke="#141414" stroke-width="4.2" stroke-linejoin="miter" stroke-miterlimit="10"/>
<line x1="596" y1="222.0" x2="986" y2="265" stroke="#141414" stroke-width="3.6" stroke-linecap="round"/>
<polygon points="566.5,347 604.8,326.7 604.8,369" fill="none" stroke="#141414" stroke-width="4.2" stroke-linejoin="miter" stroke-miterlimit="10"/>
<line x1="605.8" y1="348.0" x2="997" y2="392" stroke="#141414" stroke-width="3.6" stroke-linecap="round"/>
<polygon points="569,487 608.5,467 608.5,508" fill="none" stroke="#141414" stroke-width="4.2" stroke-linejoin="miter" stroke-miterlimit="10"/>
<line x1="609.5" y1="488.0" x2="997" y2="531" stroke="#141414" stroke-width="3.6" stroke-linecap="round"/>
<polygon points="570,737 606,721.6 606,755" fill="none" stroke="#141414" stroke-width="4.2" stroke-linejoin="miter" stroke-miterlimit="10"/>
<line x1="607" y1="738.0" x2="997" y2="781" stroke="#141414" stroke-width="3.6" stroke-linecap="round"/>
<polygon points="579,916.6 616,899 616,936.7" fill="none" stroke="#141414" stroke-width="4.2" stroke-linejoin="miter" stroke-miterlimit="10"/>
<line x1="617" y1="917.6" x2="1002" y2="961" stroke="#141414" stroke-width="3.6" stroke-linecap="round"/>
<polygon points="582.7,1033 619.7,1017 619.7,1054.7" fill="none" stroke="#141414" stroke-width="4.2" stroke-linejoin="miter" stroke-miterlimit="10"/>
<line x1="620.7" y1="1034.0" x2="1002" y2="1077.6" stroke="#141414" stroke-width="3.6" stroke-linecap="round"/>
<polygon points="584,1214 619.7,1195 619.7,1234" fill="none" stroke="#141414" stroke-width="4.2" stroke-linejoin="miter" stroke-miterlimit="10"/>
<line x1="620.7" y1="1215.0" x2="1012" y2="1258" stroke="#141414" stroke-width="3.6" stroke-linecap="round"/>
<polygon points="584,1393.6 620,1375.5 620,1414" fill="none" stroke="#141414" stroke-width="4.2" stroke-linejoin="miter" stroke-miterlimit="10"/>
<line x1="621" y1="1394.6" x2="1000" y2="1438" stroke="#141414" stroke-width="3.6" stroke-linecap="round"/>
<polygon points="587.7,1486.8 623.5,1472 623.5,1507" fill="none" stroke="#141414" stroke-width="4.2" stroke-linejoin="miter" stroke-miterlimit="10"/>
<line x1="624.5" y1="1487.8" x2="1012" y2="1531.5" stroke="#141414" stroke-width="3.6" stroke-linecap="round"/>
<polygon points="587.7,1612 624.7,1595 624.7,1634" fill="none" stroke="#141414" stroke-width="4.2" stroke-linejoin="miter" stroke-miterlimit="10"/>
<line x1="625.7" y1="1613.0" x2="1000" y2="1657" stroke="#141414" stroke-width="3.6" stroke-linecap="round"/>
<polygon points="595,1745 628.4,1728 628.4,1763" fill="none" stroke="#141414" stroke-width="4.2" stroke-linejoin="miter" stroke-miterlimit="10"/>
<line x1="629.4" y1="1746.0" x2="1017" y2="1759" stroke="#141414" stroke-width="3.6" stroke-linecap="round"/>
<polygon points="577,1819 614,1813 614,1844" fill="none" stroke="#141414" stroke-width="4.2" stroke-linejoin="miter" stroke-miterlimit="10"/>
<line x1="619" y1="1825.5" x2="997.5" y2="1913" stroke="#141414" stroke-width="3.6" stroke-linecap="round"/>
<polygon points="566,1872 590,1861 590,1897" fill="none" stroke="#141414" stroke-width="4.2" stroke-linejoin="miter" stroke-miterlimit="10"/>
<line x1="591" y1="1877.0" x2="967" y2="1995" stroke="#141414" stroke-width="3.6" stroke-linecap="round"/>
<text x="1008.0" y="154.7" textLength="312.0" lengthAdjust="spacingAndGlyphs" font-family="Liberation Sans" font-weight="bold" font-size="70.5" fill="none" stroke="#eef4f4" stroke-opacity="0.55" stroke-width="6.3" stroke-linejoin="round">chapeau</text>
<text x="1008.0" y="154.7" textLength="312.0" lengthAdjust="spacingAndGlyphs" font-family="Liberation Sans" font-weight="bold" font-size="70.5" fill="#0d383b" stroke="#0d383b" stroke-width="2.3">chapeau</text>
<text x="1340.8" y="154.7" textLength="323.2" lengthAdjust="spacingAndGlyphs" font-family="Liberation Sans" font-weight="bold" font-size="70.5" fill="none" stroke="#eef4f4" stroke-opacity="0.55" stroke-width="6.3" stroke-linejoin="round">standard</text>
<text x="1340.8" y="154.7" textLength="323.2" lengthAdjust="spacingAndGlyphs" font-family="Liberation Sans" font-weight="bold" font-size="70.5" fill="#0d383b" stroke="#0d383b" stroke-width="2.3">standard</text>
<text x="1008.8" y="268.7" textLength="71.6" lengthAdjust="spacingAndGlyphs" font-family="Liberation Sans" font-weight="bold" font-size="70.5" fill="none" stroke="#eef4f4" stroke-opacity="0.55" stroke-width="6.3" stroke-linejoin="round">lg</text>
<text x="1008.8" y="268.7" textLength="71.6" lengthAdjust="spacingAndGlyphs" font-family="Liberation Sans" font-weight="bold" font-size="70.5" fill="#0d383b" stroke="#0d383b" stroke-width="2.3">lg</text>
<text x="1098.4" y="268.7" textLength="92.4" lengthAdjust="spacingAndGlyphs" font-family="Liberation Sans" font-weight="bold" font-size="70.5" fill="none" stroke="#eef4f4" stroke-opacity="0.55" stroke-width="6.3" stroke-linejoin="round">de</text>
<text x="1098.4" y="268.7" textLength="92.4" lengthAdjust="spacingAndGlyphs" font-family="Liberation Sans" font-weight="bold" font-size="70.5" fill="#0d383b" stroke="#0d383b" stroke-width="2.3">de</text>
<text x="1207.4" y="268.7" textLength="98.6" lengthAdjust="spacingAndGlyphs" font-family="Liberation Sans" font-weight="bold" font-size="70.5" fill="none" stroke="#eef4f4" stroke-opacity="0.55" stroke-width="6.3" stroke-linejoin="round">1m</text>
<text x="1207.4" y="268.7" textLength="98.6" lengthAdjust="spacingAndGlyphs" font-family="Liberation Sans" font-weight="bold" font-size="70.5" fill="#0d383b" stroke="#0d383b" stroke-width="2.3">1m</text>
<text x="1325.8" y="268.7" textLength="169.6" lengthAdjust="spacingAndGlyphs" font-family="Liberation Sans" font-weight="bold" font-size="70.5" fill="none" stroke="#eef4f4" stroke-opacity="0.55" stroke-width="6.3" stroke-linejoin="round">isolé</text>
<text x="1325.8" y="268.7" textLength="169.6" lengthAdjust="spacingAndGlyphs" font-family="Liberation Sans" font-weight="bold" font-size="70.5" fill="#0d383b" stroke="#0d383b" stroke-width="2.3">isolé</text>
<text x="1021.4" y="408.7" textLength="218.6" lengthAdjust="spacingAndGlyphs" font-family="Liberation Sans" font-weight="bold" font-size="70.5" fill="none" stroke="#eef4f4" stroke-opacity="0.55" stroke-width="6.3" stroke-linejoin="round">collier</text>
<text x="1021.4" y="408.7" textLength="218.6" lengthAdjust="spacingAndGlyphs" font-family="Liberation Sans" font-weight="bold" font-size="70.5" fill="#0d383b" stroke="#0d383b" stroke-width="2.3">collier</text>
<text x="1264.0" y="408.7" textLength="210.0" lengthAdjust="spacingAndGlyphs" font-family="Liberation Sans" font-weight="bold" font-size="70.5" fill="none" stroke="#eef4f4" stroke-opacity="0.55" stroke-width="6.3" stroke-linejoin="round">mural</text>
<text x="1264.0" y="408.7" textLength="210.0" lengthAdjust="spacingAndGlyphs" font-family="Liberation Sans" font-weight="bold" font-size="70.5" fill="#0d383b" stroke="#0d383b" stroke-width="2.3">mural</text>
<text x="1010.0" y="550.7" textLength="70.9" lengthAdjust="spacingAndGlyphs" font-family="Liberation Sans" font-weight="bold" font-size="70.5" fill="none" stroke="#eef4f4" stroke-opacity="0.55" stroke-width="6.3" stroke-linejoin="round">lg</text>
<text x="1010.0" y="550.7" textLength="70.9" lengthAdjust="spacingAndGlyphs" font-family="Liberation Sans" font-weight="bold" font-size="70.5" fill="#0d383b" stroke="#0d383b" stroke-width="2.3">lg</text>
<text x="1098.6" y="550.7" textLength="92.4" lengthAdjust="spacingAndGlyphs" font-family="Liberation Sans" font-weight="bold" font-size="70.5" fill="none" stroke="#eef4f4" stroke-opacity="0.55" stroke-width="6.3" stroke-linejoin="round">de</text>
<text x="1098.6" y="550.7" textLength="92.4" lengthAdjust="spacingAndGlyphs" font-family="Liberation Sans" font-weight="bold" font-size="70.5" fill="#0d383b" stroke="#0d383b" stroke-width="2.3">de</text>
<text x="1207.3" y="550.7" textLength="98.5" lengthAdjust="spacingAndGlyphs" font-family="Liberation Sans" font-weight="bold" font-size="70.5" fill="none" stroke="#eef4f4" stroke-opacity="0.55" stroke-width="6.3" stroke-linejoin="round">1m</text>
<text x="1207.3" y="550.7" textLength="98.5" lengthAdjust="spacingAndGlyphs" font-family="Liberation Sans" font-weight="bold" font-size="70.5" fill="#0d383b" stroke="#0d383b" stroke-width="2.3">1m</text>
<text x="1325.3" y="550.7" textLength="168.7" lengthAdjust="spacingAndGlyphs" font-family="Liberation Sans" font-weight="bold" font-size="70.5" fill="none" stroke="#eef4f4" stroke-opacity="0.55" stroke-width="6.3" stroke-linejoin="round">isolé</text>
<text x="1325.3" y="550.7" textLength="168.7" lengthAdjust="spacingAndGlyphs" font-family="Liberation Sans" font-weight="bold" font-size="70.5" fill="#0d383b" stroke="#0d383b" stroke-width="2.3">isolé</text>
<text x="1008.0" y="800.7" textLength="71.0" lengthAdjust="spacingAndGlyphs" font-family="Liberation Sans" font-weight="bold" font-size="70.5" fill="none" stroke="#eef4f4" stroke-opacity="0.55" stroke-width="6.3" stroke-linejoin="round">lg</text>
<text x="1008.0" y="800.7" textLength="71.0" lengthAdjust="spacingAndGlyphs" font-family="Liberation Sans" font-weight="bold" font-size="70.5" fill="#0d383b" stroke="#0d383b" stroke-width="2.3">lg</text>
<text x="1096.5" y="800.7" textLength="93.3" lengthAdjust="spacingAndGlyphs" font-family="Liberation Sans" font-weight="bold" font-size="70.5" fill="none" stroke="#eef4f4" stroke-opacity="0.55" stroke-width="6.3" stroke-linejoin="round">de</text>
<text x="1096.5" y="800.7" textLength="93.3" lengthAdjust="spacingAndGlyphs" font-family="Liberation Sans" font-weight="bold" font-size="70.5" fill="#0d383b" stroke="#0d383b" stroke-width="2.3">de</text>
<text x="1205.9" y="800.7" textLength="99.6" lengthAdjust="spacingAndGlyphs" font-family="Liberation Sans" font-weight="bold" font-size="70.5" fill="none" stroke="#eef4f4" stroke-opacity="0.55" stroke-width="6.3" stroke-linejoin="round">1m</text>
<text x="1205.9" y="800.7" textLength="99.6" lengthAdjust="spacingAndGlyphs" font-family="Liberation Sans" font-weight="bold" font-size="70.5" fill="#0d383b" stroke="#0d383b" stroke-width="2.3">1m</text>
<text x="1324.9" y="800.7" textLength="169.1" lengthAdjust="spacingAndGlyphs" font-family="Liberation Sans" font-weight="bold" font-size="70.5" fill="none" stroke="#eef4f4" stroke-opacity="0.55" stroke-width="6.3" stroke-linejoin="round">isolé</text>
<text x="1324.9" y="800.7" textLength="169.1" lengthAdjust="spacingAndGlyphs" font-family="Liberation Sans" font-weight="bold" font-size="70.5" fill="#0d383b" stroke="#0d383b" stroke-width="2.3">isolé</text>
<text x="1021.0" y="966.7" textLength="218.8" lengthAdjust="spacingAndGlyphs" font-family="Liberation Sans" font-weight="bold" font-size="70.5" fill="none" stroke="#eef4f4" stroke-opacity="0.55" stroke-width="6.3" stroke-linejoin="round">collier</text>
<text x="1021.0" y="966.7" textLength="218.8" lengthAdjust="spacingAndGlyphs" font-family="Liberation Sans" font-weight="bold" font-size="70.5" fill="#0d383b" stroke="#0d383b" stroke-width="2.3">collier</text>
<text x="1263.9" y="966.7" textLength="210.1" lengthAdjust="spacingAndGlyphs" font-family="Liberation Sans" font-weight="bold" font-size="70.5" fill="none" stroke="#eef4f4" stroke-opacity="0.55" stroke-width="6.3" stroke-linejoin="round">mural</text>
<text x="1263.9" y="966.7" textLength="210.1" lengthAdjust="spacingAndGlyphs" font-family="Liberation Sans" font-weight="bold" font-size="70.5" fill="#0d383b" stroke="#0d383b" stroke-width="2.3">mural</text>
<text x="1019.0" y="1082.7" textLength="70.9" lengthAdjust="spacingAndGlyphs" font-family="Liberation Sans" font-weight="bold" font-size="70.5" fill="none" stroke="#eef4f4" stroke-opacity="0.55" stroke-width="6.3" stroke-linejoin="round">lg</text>
<text x="1019.0" y="1082.7" textLength="70.9" lengthAdjust="spacingAndGlyphs" font-family="Liberation Sans" font-weight="bold" font-size="70.5" fill="#0d383b" stroke="#0d383b" stroke-width="2.3">lg</text>
<text x="1108.0" y="1082.7" textLength="92.8" lengthAdjust="spacingAndGlyphs" font-family="Liberation Sans" font-weight="bold" font-size="70.5" fill="none" stroke="#eef4f4" stroke-opacity="0.55" stroke-width="6.3" stroke-linejoin="round">de</text>
<text x="1108.0" y="1082.7" textLength="92.8" lengthAdjust="spacingAndGlyphs" font-family="Liberation Sans" font-weight="bold" font-size="70.5" fill="#0d383b" stroke="#0d383b" stroke-width="2.3">de</text>
<text x="1216.6" y="1082.7" textLength="99.1" lengthAdjust="spacingAndGlyphs" font-family="Liberation Sans" font-weight="bold" font-size="70.5" fill="none" stroke="#eef4f4" stroke-opacity="0.55" stroke-width="6.3" stroke-linejoin="round">1m</text>
<text x="1216.6" y="1082.7" textLength="99.1" lengthAdjust="spacingAndGlyphs" font-family="Liberation Sans" font-weight="bold" font-size="70.5" fill="#0d383b" stroke="#0d383b" stroke-width="2.3">1m</text>
<text x="1334.6" y="1082.7" textLength="170.4" lengthAdjust="spacingAndGlyphs" font-family="Liberation Sans" font-weight="bold" font-size="70.5" fill="none" stroke="#eef4f4" stroke-opacity="0.55" stroke-width="6.3" stroke-linejoin="round">isolé</text>
<text x="1334.6" y="1082.7" textLength="170.4" lengthAdjust="spacingAndGlyphs" font-family="Liberation Sans" font-weight="bold" font-size="70.5" fill="#0d383b" stroke="#0d383b" stroke-width="2.3">isolé</text>
<text x="1014.0" y="1249.7" textLength="70.9" lengthAdjust="spacingAndGlyphs" font-family="Liberation Sans" font-weight="bold" font-size="70.5" fill="none" stroke="#eef4f4" stroke-opacity="0.55" stroke-width="6.3" stroke-linejoin="round">lg</text>
<text x="1014.0" y="1249.7" textLength="70.9" lengthAdjust="spacingAndGlyphs" font-family="Liberation Sans" font-weight="bold" font-size="70.5" fill="#0d383b" stroke="#0d383b" stroke-width="2.3">lg</text>
<text x="1103.0" y="1249.7" textLength="92.8" lengthAdjust="spacingAndGlyphs" font-family="Liberation Sans" font-weight="bold" font-size="70.5" fill="none" stroke="#eef4f4" stroke-opacity="0.55" stroke-width="6.3" stroke-linejoin="round">de</text>
<text x="1103.0" y="1249.7" textLength="92.8" lengthAdjust="spacingAndGlyphs" font-family="Liberation Sans" font-weight="bold" font-size="70.5" fill="#0d383b" stroke="#0d383b" stroke-width="2.3">de</text>
<text x="1211.6" y="1249.7" textLength="99.1" lengthAdjust="spacingAndGlyphs" font-family="Liberation Sans" font-weight="bold" font-size="70.5" fill="none" stroke="#eef4f4" stroke-opacity="0.55" stroke-width="6.3" stroke-linejoin="round">1m</text>
<text x="1211.6" y="1249.7" textLength="99.1" lengthAdjust="spacingAndGlyphs" font-family="Liberation Sans" font-weight="bold" font-size="70.5" fill="#0d383b" stroke="#0d383b" stroke-width="2.3">1m</text>
<text x="1329.6" y="1249.7" textLength="170.4" lengthAdjust="spacingAndGlyphs" font-family="Liberation Sans" font-weight="bold" font-size="70.5" fill="none" stroke="#eef4f4" stroke-opacity="0.55" stroke-width="6.3" stroke-linejoin="round">isolé</text>
<text x="1329.6" y="1249.7" textLength="170.4" lengthAdjust="spacingAndGlyphs" font-family="Liberation Sans" font-weight="bold" font-size="70.5" fill="#0d383b" stroke="#0d383b" stroke-width="2.3">isolé</text>
<text x="996.0" y="1441.7" textLength="70.9" lengthAdjust="spacingAndGlyphs" font-family="Liberation Sans" font-weight="bold" font-size="70.5" fill="none" stroke="#eef4f4" stroke-opacity="0.55" stroke-width="6.3" stroke-linejoin="round">lg</text>
<text x="996.0" y="1441.7" textLength="70.9" lengthAdjust="spacingAndGlyphs" font-family="Liberation Sans" font-weight="bold" font-size="70.5" fill="#0d383b" stroke="#0d383b" stroke-width="2.3">lg</text>
<text x="1085.0" y="1441.7" textLength="92.8" lengthAdjust="spacingAndGlyphs" font-family="Liberation Sans" font-weight="bold" font-size="70.5" fill="none" stroke="#eef4f4" stroke-opacity="0.55" stroke-width="6.3" stroke-linejoin="round">de</text>
<text x="1085.0" y="1441.7" textLength="92.8" lengthAdjust="spacingAndGlyphs" font-family="Liberation Sans" font-weight="bold" font-size="70.5" fill="#0d383b" stroke="#0d383b" stroke-width="2.3">de</text>
<text x="1193.6" y="1441.7" textLength="99.1" lengthAdjust="spacingAndGlyphs" font-family="Liberation Sans" font-weight="bold" font-size="70.5" fill="none" stroke="#eef4f4" stroke-opacity="0.55" stroke-width="6.3" stroke-linejoin="round">1m</text>
<text x="1193.6" y="1441.7" textLength="99.1" lengthAdjust="spacingAndGlyphs" font-family="Liberation Sans" font-weight="bold" font-size="70.5" fill="#0d383b" stroke="#0d383b" stroke-width="2.3">1m</text>
<text x="1311.6" y="1441.7" textLength="170.4" lengthAdjust="spacingAndGlyphs" font-family="Liberation Sans" font-weight="bold" font-size="70.5" fill="none" stroke="#eef4f4" stroke-opacity="0.55" stroke-width="6.3" stroke-linejoin="round">isolé</text>
<text x="1311.6" y="1441.7" textLength="170.4" lengthAdjust="spacingAndGlyphs" font-family="Liberation Sans" font-weight="bold" font-size="70.5" fill="#0d383b" stroke="#0d383b" stroke-width="2.3">isolé</text>
<text x="1015.0" y="1559.7" textLength="218.0" lengthAdjust="spacingAndGlyphs" font-family="Liberation Sans" font-weight="bold" font-size="70.5" fill="none" stroke="#eef4f4" stroke-opacity="0.55" stroke-width="6.3" stroke-linejoin="round">collier</text>
<text x="1015.0" y="1559.7" textLength="218.0" lengthAdjust="spacingAndGlyphs" font-family="Liberation Sans" font-weight="bold" font-size="70.5" fill="#0d383b" stroke="#0d383b" stroke-width="2.3">collier</text>
<text x="1256.2" y="1559.7" textLength="209.8" lengthAdjust="spacingAndGlyphs" font-family="Liberation Sans" font-weight="bold" font-size="70.5" fill="none" stroke="#eef4f4" stroke-opacity="0.55" stroke-width="6.3" stroke-linejoin="round">mural</text>
<text x="1256.2" y="1559.7" textLength="209.8" lengthAdjust="spacingAndGlyphs" font-family="Liberation Sans" font-weight="bold" font-size="70.5" fill="#0d383b" stroke="#0d383b" stroke-width="2.3">mural</text>
<text x="995.0" y="1674.7" textLength="71.0" lengthAdjust="spacingAndGlyphs" font-family="Liberation Sans" font-weight="bold" font-size="70.5" fill="none" stroke="#eef4f4" stroke-opacity="0.55" stroke-width="6.3" stroke-linejoin="round">lg</text>
<text x="995.0" y="1674.7" textLength="71.0" lengthAdjust="spacingAndGlyphs" font-family="Liberation Sans" font-weight="bold" font-size="70.5" fill="#0d383b" stroke="#0d383b" stroke-width="2.3">lg</text>
<text x="1083.9" y="1674.7" textLength="93.8" lengthAdjust="spacingAndGlyphs" font-family="Liberation Sans" font-weight="bold" font-size="70.5" fill="none" stroke="#eef4f4" stroke-opacity="0.55" stroke-width="6.3" stroke-linejoin="round">de</text>
<text x="1083.9" y="1674.7" textLength="93.8" lengthAdjust="spacingAndGlyphs" font-family="Liberation Sans" font-weight="bold" font-size="70.5" fill="#0d383b" stroke="#0d383b" stroke-width="2.3">de</text>
<text x="1193.1" y="1674.7" textLength="100.2" lengthAdjust="spacingAndGlyphs" font-family="Liberation Sans" font-weight="bold" font-size="70.5" fill="none" stroke="#eef4f4" stroke-opacity="0.55" stroke-width="6.3" stroke-linejoin="round">1m</text>
<text x="1193.1" y="1674.7" textLength="100.2" lengthAdjust="spacingAndGlyphs" font-family="Liberation Sans" font-weight="bold" font-size="70.5" fill="#0d383b" stroke="#0d383b" stroke-width="2.3">1m</text>
<text x="1312.1" y="1674.7" textLength="169.9" lengthAdjust="spacingAndGlyphs" font-family="Liberation Sans" font-weight="bold" font-size="70.5" fill="none" stroke="#eef4f4" stroke-opacity="0.55" stroke-width="6.3" stroke-linejoin="round">isolé</text>
<text x="1312.1" y="1674.7" textLength="169.9" lengthAdjust="spacingAndGlyphs" font-family="Liberation Sans" font-weight="bold" font-size="70.5" fill="#0d383b" stroke="#0d383b" stroke-width="2.3">isolé</text>
<text x="1011.0" y="1765.7" textLength="280.6" lengthAdjust="spacingAndGlyphs" font-family="Liberation Sans" font-weight="bold" font-size="70.5" fill="none" stroke="#eef4f4" stroke-opacity="0.55" stroke-width="6.3" stroke-linejoin="round">support</text>
<text x="1011.0" y="1765.7" textLength="280.6" lengthAdjust="spacingAndGlyphs" font-family="Liberation Sans" font-weight="bold" font-size="70.5" fill="#0d383b" stroke="#0d383b" stroke-width="2.3">support</text>
<text x="1315.6" y="1765.7" textLength="209.8" lengthAdjust="spacingAndGlyphs" font-family="Liberation Sans" font-weight="bold" font-size="70.5" fill="none" stroke="#eef4f4" stroke-opacity="0.55" stroke-width="6.3" stroke-linejoin="round">mural</text>
<text x="1315.6" y="1765.7" textLength="209.8" lengthAdjust="spacingAndGlyphs" font-family="Liberation Sans" font-weight="bold" font-size="70.5" fill="#0d383b" stroke="#0d383b" stroke-width="2.3">mural</text>
<text x="1547.0" y="1765.7" textLength="330.0" lengthAdjust="spacingAndGlyphs" font-family="Liberation Sans" font-weight="bold" font-size="70.5" fill="none" stroke="#eef4f4" stroke-opacity="0.55" stroke-width="6.3" stroke-linejoin="round">ajustable</text>
<text x="1547.0" y="1765.7" textLength="330.0" lengthAdjust="spacingAndGlyphs" font-family="Liberation Sans" font-weight="bold" font-size="70.5" fill="#0d383b" stroke="#0d383b" stroke-width="2.3">ajustable</text>
<text x="997.0" y="1915.7" textLength="65.0" lengthAdjust="spacingAndGlyphs" font-family="Liberation Sans" font-weight="bold" font-size="70.5" fill="none" stroke="#eef4f4" stroke-opacity="0.55" stroke-width="6.3" stroke-linejoin="round">té</text>
<text x="997.0" y="1915.7" textLength="65.0" lengthAdjust="spacingAndGlyphs" font-family="Liberation Sans" font-weight="bold" font-size="70.5" fill="#0d383b" stroke="#0d383b" stroke-width="2.3">té</text>
<text x="1085.0" y="1915.7" textLength="120.8" lengthAdjust="spacingAndGlyphs" font-family="Liberation Sans" font-weight="bold" font-size="70.5" fill="none" stroke="#eef4f4" stroke-opacity="0.55" stroke-width="6.3" stroke-linejoin="round">90°</text>
<text x="1085.0" y="1915.7" textLength="120.8" lengthAdjust="spacingAndGlyphs" font-family="Liberation Sans" font-weight="bold" font-size="70.5" fill="#0d383b" stroke="#0d383b" stroke-width="2.3">90°</text>
<text x="1010.0" y="1985.7" textLength="275.0" lengthAdjust="spacingAndGlyphs" font-family="Liberation Sans" font-weight="bold" font-size="70.5" fill="none" stroke="#eef4f4" stroke-opacity="0.55" stroke-width="6.3" stroke-linejoin="round">tampon</text>
<text x="1010.0" y="1985.7" textLength="275.0" lengthAdjust="spacingAndGlyphs" font-family="Liberation Sans" font-weight="bold" font-size="70.5" fill="#0d383b" stroke="#0d383b" stroke-width="2.3">tampon</text>
<text x="1316.0" y="1985.7" textLength="120.0" lengthAdjust="spacingAndGlyphs" font-family="Liberation Sans" font-weight="bold" font-size="70.5" fill="none" stroke="#eef4f4" stroke-opacity="0.55" stroke-width="6.3" stroke-linejoin="round">bas</text>
<text x="1316.0" y="1985.7" textLength="120.0" lengthAdjust="spacingAndGlyphs" font-family="Liberation Sans" font-weight="bold" font-size="70.5" fill="#0d383b" stroke="#0d383b" stroke-width="2.3">bas</text>
<text x="999.4" y="1827.0" textLength="351.6" lengthAdjust="spacingAndGlyphs" font-family="Liberation Sans" font-weight="bold" font-size="55" fill="none" stroke="#eef4f4" stroke-opacity="0.55" stroke-width="5.8" stroke-linejoin="round">(uniquement</text>
<text x="999.4" y="1827.0" textLength="351.6" lengthAdjust="spacingAndGlyphs" font-family="Liberation Sans" font-weight="bold" font-size="55" fill="#e8414b" stroke="#e8414b" stroke-width="1.8">(uniquement</text>
<text x="1373.0" y="1827.0" textLength="26.0" lengthAdjust="spacingAndGlyphs" font-family="Liberation Sans" font-weight="bold" font-size="55" fill="none" stroke="#eef4f4" stroke-opacity="0.55" stroke-width="5.8" stroke-linejoin="round">à</text>
<text x="1373.0" y="1827.0" textLength="26.0" lengthAdjust="spacingAndGlyphs" font-family="Liberation Sans" font-weight="bold" font-size="55" fill="#e8414b" stroke="#e8414b" stroke-width="1.8">à</text>
<text x="1413.0" y="1827.0" textLength="153.0" lengthAdjust="spacingAndGlyphs" font-family="Liberation Sans" font-weight="bold" font-size="55" fill="none" stroke="#eef4f4" stroke-opacity="0.55" stroke-width="5.8" stroke-linejoin="round">partir</text>
<text x="1413.0" y="1827.0" textLength="153.0" lengthAdjust="spacingAndGlyphs" font-family="Liberation Sans" font-weight="bold" font-size="55" fill="#e8414b" stroke="#e8414b" stroke-width="1.8">partir</text>
<text x="1583.0" y="1827.0" textLength="61.0" lengthAdjust="spacingAndGlyphs" font-family="Liberation Sans" font-weight="bold" font-size="55" fill="none" stroke="#eef4f4" stroke-opacity="0.55" stroke-width="5.8" stroke-linejoin="round">du</text>
<text x="1583.0" y="1827.0" textLength="61.0" lengthAdjust="spacingAndGlyphs" font-family="Liberation Sans" font-weight="bold" font-size="55" fill="#e8414b" stroke="#e8414b" stroke-width="1.8">du</text>
<text x="1657.0" y="1827.0" textLength="263.0" lengthAdjust="spacingAndGlyphs" font-family="Liberation Sans" font-weight="bold" font-size="55" fill="none" stroke="#eef4f4" stroke-opacity="0.55" stroke-width="5.8" stroke-linejoin="round">diam.130)</text>
<text x="1657.0" y="1827.0" textLength="263.0" lengthAdjust="spacingAndGlyphs" font-family="Liberation Sans" font-weight="bold" font-size="55" fill="#e8414b" stroke="#e8414b" stroke-width="1.8">diam.130)</text></svg>
</body></html>
